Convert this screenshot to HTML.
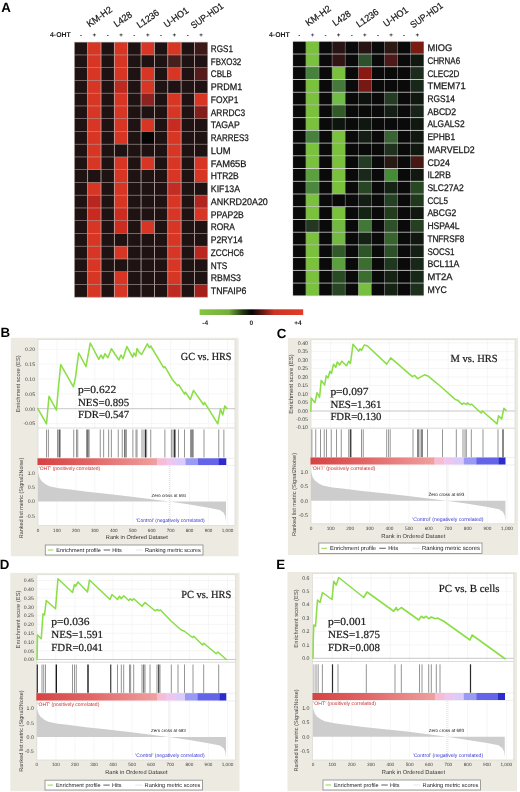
<!DOCTYPE html>
<html><head><meta charset="utf-8"><title>Figure</title>
<style>html,body{margin:0;padding:0;background:#fff}svg{display:block}svg text{text-rendering:geometricPrecision}</style>
</head><body>
<svg width="520" height="792" viewBox="0 0 520 792">
<rect x="0" y="0" width="520" height="792" fill="#ffffff"/>
<g opacity="0.999">
<rect x="74.30" y="42.20" width="133.50" height="255.00" fill="#c8b4b0"/>
<rect x="74.30" y="41.90" width="133.50" height="0.60" fill="#9a8c8c"/>
<rect x="74.30" y="54.65" width="133.50" height="0.60" fill="#9a8c8c"/>
<rect x="74.30" y="67.40" width="133.50" height="0.60" fill="#9a8c8c"/>
<rect x="74.30" y="80.15" width="133.50" height="0.60" fill="#9a8c8c"/>
<rect x="74.30" y="92.90" width="133.50" height="0.60" fill="#9a8c8c"/>
<rect x="74.30" y="105.65" width="133.50" height="0.60" fill="#9a8c8c"/>
<rect x="74.30" y="118.40" width="133.50" height="0.60" fill="#9a8c8c"/>
<rect x="74.30" y="131.15" width="133.50" height="0.60" fill="#9a8c8c"/>
<rect x="74.30" y="143.90" width="133.50" height="0.60" fill="#9a8c8c"/>
<rect x="74.30" y="156.65" width="133.50" height="0.60" fill="#9a8c8c"/>
<rect x="74.30" y="169.40" width="133.50" height="0.60" fill="#9a8c8c"/>
<rect x="74.30" y="182.15" width="133.50" height="0.60" fill="#9a8c8c"/>
<rect x="74.30" y="194.90" width="133.50" height="0.60" fill="#9a8c8c"/>
<rect x="74.30" y="207.65" width="133.50" height="0.60" fill="#9a8c8c"/>
<rect x="74.30" y="220.40" width="133.50" height="0.60" fill="#9a8c8c"/>
<rect x="74.30" y="233.15" width="133.50" height="0.60" fill="#9a8c8c"/>
<rect x="74.30" y="245.90" width="133.50" height="0.60" fill="#9a8c8c"/>
<rect x="74.30" y="258.65" width="133.50" height="0.60" fill="#9a8c8c"/>
<rect x="74.30" y="271.40" width="133.50" height="0.60" fill="#9a8c8c"/>
<rect x="74.30" y="284.15" width="133.50" height="0.60" fill="#9a8c8c"/>
<rect x="74.30" y="296.90" width="133.50" height="0.60" fill="#9a8c8c"/>
<rect x="74.70" y="42.50" width="12.55" height="12.15" fill="#1f1213"/>
<rect x="88.05" y="42.50" width="12.55" height="12.15" fill="#d83624"/>
<rect x="101.40" y="42.50" width="12.55" height="12.15" fill="#1f1213"/>
<rect x="114.75" y="42.50" width="12.55" height="12.15" fill="#d83624"/>
<rect x="128.10" y="42.50" width="12.55" height="12.15" fill="#1f1213"/>
<rect x="141.45" y="42.50" width="12.55" height="12.15" fill="#d83624"/>
<rect x="154.80" y="42.50" width="12.55" height="12.15" fill="#1f1213"/>
<rect x="168.15" y="42.50" width="12.55" height="12.15" fill="#d83624"/>
<rect x="181.50" y="42.50" width="12.55" height="12.15" fill="#1f1213"/>
<rect x="194.85" y="42.50" width="12.55" height="12.15" fill="#3c1a18"/>
<text x="210.80" y="51.98" font-family="Liberation Sans, Arial, sans-serif" font-size="9.6" fill="#161616" stroke="#161616" stroke-width="0.25" textLength="22.15" lengthAdjust="spacingAndGlyphs">RGS1</text>
<rect x="74.70" y="55.25" width="12.55" height="12.15" fill="#1f1213"/>
<rect x="88.05" y="55.25" width="12.55" height="12.15" fill="#d83624"/>
<rect x="101.40" y="55.25" width="12.55" height="12.15" fill="#1f1213"/>
<rect x="114.75" y="55.25" width="12.55" height="12.15" fill="#d83624"/>
<rect x="128.10" y="55.25" width="12.55" height="12.15" fill="#1f1213"/>
<rect x="141.45" y="55.25" width="12.55" height="12.15" fill="#1f1213"/>
<rect x="154.80" y="55.25" width="12.55" height="12.15" fill="#1f1213"/>
<rect x="168.15" y="55.25" width="12.55" height="12.15" fill="#46201c"/>
<rect x="181.50" y="55.25" width="12.55" height="12.15" fill="#1f1213"/>
<rect x="194.85" y="55.25" width="12.55" height="12.15" fill="#1f1213"/>
<text x="210.80" y="64.73" font-family="Liberation Sans, Arial, sans-serif" font-size="9.6" fill="#161616" stroke="#161616" stroke-width="0.25" textLength="30.45" lengthAdjust="spacingAndGlyphs">FBXO32</text>
<rect x="74.70" y="68.00" width="12.55" height="12.15" fill="#1f1213"/>
<rect x="88.05" y="68.00" width="12.55" height="12.15" fill="#d83624"/>
<rect x="101.40" y="68.00" width="12.55" height="12.15" fill="#1f1213"/>
<rect x="114.75" y="68.00" width="12.55" height="12.15" fill="#d83624"/>
<rect x="128.10" y="68.00" width="12.55" height="12.15" fill="#1f1213"/>
<rect x="141.45" y="68.00" width="12.55" height="12.15" fill="#d83624"/>
<rect x="154.80" y="68.00" width="12.55" height="12.15" fill="#1f1213"/>
<rect x="168.15" y="68.00" width="12.55" height="12.15" fill="#d83624"/>
<rect x="181.50" y="68.00" width="12.55" height="12.15" fill="#1f1213"/>
<rect x="194.85" y="68.00" width="12.55" height="12.15" fill="#551c1c"/>
<text x="210.80" y="77.48" font-family="Liberation Sans, Arial, sans-serif" font-size="9.6" fill="#161616" stroke="#161616" stroke-width="0.25" textLength="21.12" lengthAdjust="spacingAndGlyphs">CBLB</text>
<rect x="74.70" y="80.75" width="12.55" height="12.15" fill="#1f1213"/>
<rect x="88.05" y="80.75" width="12.55" height="12.15" fill="#d83624"/>
<rect x="101.40" y="80.75" width="12.55" height="12.15" fill="#1f1213"/>
<rect x="114.75" y="80.75" width="12.55" height="12.15" fill="#be2a20"/>
<rect x="128.10" y="80.75" width="12.55" height="12.15" fill="#1f1213"/>
<rect x="141.45" y="80.75" width="12.55" height="12.15" fill="#d83624"/>
<rect x="154.80" y="80.75" width="12.55" height="12.15" fill="#1f1213"/>
<rect x="168.15" y="80.75" width="12.55" height="12.15" fill="#1f1213"/>
<rect x="181.50" y="80.75" width="12.55" height="12.15" fill="#1f1213"/>
<rect x="194.85" y="80.75" width="12.55" height="12.15" fill="#1f1213"/>
<text x="210.80" y="90.23" font-family="Liberation Sans, Arial, sans-serif" font-size="9.6" fill="#161616" stroke="#161616" stroke-width="0.25" textLength="31.43" lengthAdjust="spacingAndGlyphs">PRDM1</text>
<rect x="74.70" y="93.50" width="12.55" height="12.15" fill="#1f1213"/>
<rect x="88.05" y="93.50" width="12.55" height="12.15" fill="#d83624"/>
<rect x="101.40" y="93.50" width="12.55" height="12.15" fill="#1f1213"/>
<rect x="114.75" y="93.50" width="12.55" height="12.15" fill="#d83624"/>
<rect x="128.10" y="93.50" width="12.55" height="12.15" fill="#1f1213"/>
<rect x="141.45" y="93.50" width="12.55" height="12.15" fill="#8c231e"/>
<rect x="154.80" y="93.50" width="12.55" height="12.15" fill="#1f1213"/>
<rect x="168.15" y="93.50" width="12.55" height="12.15" fill="#d83624"/>
<rect x="181.50" y="93.50" width="12.55" height="12.15" fill="#1f1213"/>
<rect x="194.85" y="93.50" width="12.55" height="12.15" fill="#d83624"/>
<text x="210.80" y="102.98" font-family="Liberation Sans, Arial, sans-serif" font-size="9.6" fill="#161616" stroke="#161616" stroke-width="0.25" textLength="27.57" lengthAdjust="spacingAndGlyphs">FOXP1</text>
<rect x="74.70" y="106.25" width="12.55" height="12.15" fill="#1f1213"/>
<rect x="88.05" y="106.25" width="12.55" height="12.15" fill="#d83624"/>
<rect x="101.40" y="106.25" width="12.55" height="12.15" fill="#1f1213"/>
<rect x="114.75" y="106.25" width="12.55" height="12.15" fill="#d83624"/>
<rect x="128.10" y="106.25" width="12.55" height="12.15" fill="#1f1213"/>
<rect x="141.45" y="106.25" width="12.55" height="12.15" fill="#1f1213"/>
<rect x="154.80" y="106.25" width="12.55" height="12.15" fill="#1f1213"/>
<rect x="168.15" y="106.25" width="12.55" height="12.15" fill="#d83624"/>
<rect x="181.50" y="106.25" width="12.55" height="12.15" fill="#1f1213"/>
<rect x="194.85" y="106.25" width="12.55" height="12.15" fill="#821e1c"/>
<text x="210.80" y="115.73" font-family="Liberation Sans, Arial, sans-serif" font-size="9.6" fill="#161616" stroke="#161616" stroke-width="0.25" textLength="34.36" lengthAdjust="spacingAndGlyphs">ARRDC3</text>
<rect x="74.70" y="119.00" width="12.55" height="12.15" fill="#1f1213"/>
<rect x="88.05" y="119.00" width="12.55" height="12.15" fill="#d83624"/>
<rect x="101.40" y="119.00" width="12.55" height="12.15" fill="#1f1213"/>
<rect x="114.75" y="119.00" width="12.55" height="12.15" fill="#d83624"/>
<rect x="128.10" y="119.00" width="12.55" height="12.15" fill="#1f1213"/>
<rect x="141.45" y="119.00" width="12.55" height="12.15" fill="#d83624"/>
<rect x="154.80" y="119.00" width="12.55" height="12.15" fill="#1f1213"/>
<rect x="168.15" y="119.00" width="12.55" height="12.15" fill="#c82c20"/>
<rect x="181.50" y="119.00" width="12.55" height="12.15" fill="#1f1213"/>
<rect x="194.85" y="119.00" width="12.55" height="12.15" fill="#1f1213"/>
<text x="210.80" y="128.47" font-family="Liberation Sans, Arial, sans-serif" font-size="9.6" fill="#161616" stroke="#161616" stroke-width="0.25" textLength="28.91" lengthAdjust="spacingAndGlyphs">TAGAP</text>
<rect x="74.70" y="131.75" width="12.55" height="12.15" fill="#1f1213"/>
<rect x="88.05" y="131.75" width="12.55" height="12.15" fill="#d83624"/>
<rect x="101.40" y="131.75" width="12.55" height="12.15" fill="#1f1213"/>
<rect x="114.75" y="131.75" width="12.55" height="12.15" fill="#d83624"/>
<rect x="128.10" y="131.75" width="12.55" height="12.15" fill="#1f1213"/>
<rect x="141.45" y="131.75" width="12.55" height="12.15" fill="#050505"/>
<rect x="154.80" y="131.75" width="12.55" height="12.15" fill="#1f1213"/>
<rect x="168.15" y="131.75" width="12.55" height="12.15" fill="#d83624"/>
<rect x="181.50" y="131.75" width="12.55" height="12.15" fill="#1f1213"/>
<rect x="194.85" y="131.75" width="12.55" height="12.15" fill="#1f1213"/>
<text x="210.80" y="141.22" font-family="Liberation Sans, Arial, sans-serif" font-size="9.6" fill="#161616" stroke="#161616" stroke-width="0.25" textLength="37.90" lengthAdjust="spacingAndGlyphs">RARRES3</text>
<rect x="74.70" y="144.50" width="12.55" height="12.15" fill="#1f1213"/>
<rect x="88.05" y="144.50" width="12.55" height="12.15" fill="#d83624"/>
<rect x="101.40" y="144.50" width="12.55" height="12.15" fill="#1f1213"/>
<rect x="114.75" y="144.50" width="12.55" height="12.15" fill="#1f1213"/>
<rect x="128.10" y="144.50" width="12.55" height="12.15" fill="#1f1213"/>
<rect x="141.45" y="144.50" width="12.55" height="12.15" fill="#1f1213"/>
<rect x="154.80" y="144.50" width="12.55" height="12.15" fill="#1f1213"/>
<rect x="168.15" y="144.50" width="12.55" height="12.15" fill="#d83624"/>
<rect x="181.50" y="144.50" width="12.55" height="12.15" fill="#1f1213"/>
<rect x="194.85" y="144.50" width="12.55" height="12.15" fill="#1f1213"/>
<text x="210.80" y="153.97" font-family="Liberation Sans, Arial, sans-serif" font-size="9.6" fill="#161616" stroke="#161616" stroke-width="0.25" textLength="19.84" lengthAdjust="spacingAndGlyphs">LUM</text>
<rect x="74.70" y="157.25" width="12.55" height="12.15" fill="#1f1213"/>
<rect x="88.05" y="157.25" width="12.55" height="12.15" fill="#d83624"/>
<rect x="101.40" y="157.25" width="12.55" height="12.15" fill="#1f1213"/>
<rect x="114.75" y="157.25" width="12.55" height="12.15" fill="#d83624"/>
<rect x="128.10" y="157.25" width="12.55" height="12.15" fill="#1f1213"/>
<rect x="141.45" y="157.25" width="12.55" height="12.15" fill="#d83624"/>
<rect x="154.80" y="157.25" width="12.55" height="12.15" fill="#1f1213"/>
<rect x="168.15" y="157.25" width="12.55" height="12.15" fill="#d83624"/>
<rect x="181.50" y="157.25" width="12.55" height="12.15" fill="#1f1213"/>
<rect x="194.85" y="157.25" width="12.55" height="12.15" fill="#d83624"/>
<text x="210.80" y="166.72" font-family="Liberation Sans, Arial, sans-serif" font-size="9.6" fill="#161616" stroke="#161616" stroke-width="0.25" textLength="35.72" lengthAdjust="spacingAndGlyphs">FAM65B</text>
<rect x="74.70" y="170.00" width="12.55" height="12.15" fill="#1f1213"/>
<rect x="88.05" y="170.00" width="12.55" height="12.15" fill="#1f1213"/>
<rect x="101.40" y="170.00" width="12.55" height="12.15" fill="#1f1213"/>
<rect x="114.75" y="170.00" width="12.55" height="12.15" fill="#d83624"/>
<rect x="128.10" y="170.00" width="12.55" height="12.15" fill="#1f1213"/>
<rect x="141.45" y="170.00" width="12.55" height="12.15" fill="#1f1213"/>
<rect x="154.80" y="170.00" width="12.55" height="12.15" fill="#1f1213"/>
<rect x="168.15" y="170.00" width="12.55" height="12.15" fill="#d83624"/>
<rect x="181.50" y="170.00" width="12.55" height="12.15" fill="#1f1213"/>
<rect x="194.85" y="170.00" width="12.55" height="12.15" fill="#d83624"/>
<text x="210.80" y="179.47" font-family="Liberation Sans, Arial, sans-serif" font-size="9.6" fill="#161616" stroke="#161616" stroke-width="0.25" textLength="27.99" lengthAdjust="spacingAndGlyphs">HTR2B</text>
<rect x="74.70" y="182.75" width="12.55" height="12.15" fill="#1f1213"/>
<rect x="88.05" y="182.75" width="12.55" height="12.15" fill="#d83624"/>
<rect x="101.40" y="182.75" width="12.55" height="12.15" fill="#1f1213"/>
<rect x="114.75" y="182.75" width="12.55" height="12.15" fill="#d83624"/>
<rect x="128.10" y="182.75" width="12.55" height="12.15" fill="#1f1213"/>
<rect x="141.45" y="182.75" width="12.55" height="12.15" fill="#1f1213"/>
<rect x="154.80" y="182.75" width="12.55" height="12.15" fill="#1f1213"/>
<rect x="168.15" y="182.75" width="12.55" height="12.15" fill="#c32c22"/>
<rect x="181.50" y="182.75" width="12.55" height="12.15" fill="#1f1213"/>
<rect x="194.85" y="182.75" width="12.55" height="12.15" fill="#1f1213"/>
<text x="210.80" y="192.22" font-family="Liberation Sans, Arial, sans-serif" font-size="9.6" fill="#161616" stroke="#161616" stroke-width="0.25" textLength="29.23" lengthAdjust="spacingAndGlyphs">KIF13A</text>
<rect x="74.70" y="195.50" width="12.55" height="12.15" fill="#1f1213"/>
<rect x="88.05" y="195.50" width="12.55" height="12.15" fill="#b9261f"/>
<rect x="101.40" y="195.50" width="12.55" height="12.15" fill="#1f1213"/>
<rect x="114.75" y="195.50" width="12.55" height="12.15" fill="#d83624"/>
<rect x="128.10" y="195.50" width="12.55" height="12.15" fill="#1f1213"/>
<rect x="141.45" y="195.50" width="12.55" height="12.15" fill="#1f1213"/>
<rect x="154.80" y="195.50" width="12.55" height="12.15" fill="#1f1213"/>
<rect x="168.15" y="195.50" width="12.55" height="12.15" fill="#d83624"/>
<rect x="181.50" y="195.50" width="12.55" height="12.15" fill="#1f1213"/>
<rect x="194.85" y="195.50" width="12.55" height="12.15" fill="#af251f"/>
<text x="210.80" y="204.97" font-family="Liberation Sans, Arial, sans-serif" font-size="9.6" fill="#161616" stroke="#161616" stroke-width="0.25" textLength="57.03" lengthAdjust="spacingAndGlyphs">ANKRD20A20</text>
<rect x="74.70" y="208.25" width="12.55" height="12.15" fill="#1f1213"/>
<rect x="88.05" y="208.25" width="12.55" height="12.15" fill="#c82a20"/>
<rect x="101.40" y="208.25" width="12.55" height="12.15" fill="#1f1213"/>
<rect x="114.75" y="208.25" width="12.55" height="12.15" fill="#cd2c21"/>
<rect x="128.10" y="208.25" width="12.55" height="12.15" fill="#1f1213"/>
<rect x="141.45" y="208.25" width="12.55" height="12.15" fill="#1f1213"/>
<rect x="154.80" y="208.25" width="12.55" height="12.15" fill="#1f1213"/>
<rect x="168.15" y="208.25" width="12.55" height="12.15" fill="#d83624"/>
<rect x="181.50" y="208.25" width="12.55" height="12.15" fill="#1f1213"/>
<rect x="194.85" y="208.25" width="12.55" height="12.15" fill="#d83624"/>
<text x="210.80" y="217.72" font-family="Liberation Sans, Arial, sans-serif" font-size="9.6" fill="#161616" stroke="#161616" stroke-width="0.25" textLength="32.92" lengthAdjust="spacingAndGlyphs">PPAP2B</text>
<rect x="74.70" y="221.00" width="12.55" height="12.15" fill="#1f1213"/>
<rect x="88.05" y="221.00" width="12.55" height="12.15" fill="#d83624"/>
<rect x="101.40" y="221.00" width="12.55" height="12.15" fill="#1f1213"/>
<rect x="114.75" y="221.00" width="12.55" height="12.15" fill="#cd2c21"/>
<rect x="128.10" y="221.00" width="12.55" height="12.15" fill="#1f1213"/>
<rect x="141.45" y="221.00" width="12.55" height="12.15" fill="#d83624"/>
<rect x="154.80" y="221.00" width="12.55" height="12.15" fill="#1f1213"/>
<rect x="168.15" y="221.00" width="12.55" height="12.15" fill="#d83624"/>
<rect x="181.50" y="221.00" width="12.55" height="12.15" fill="#1f1213"/>
<rect x="194.85" y="221.00" width="12.55" height="12.15" fill="#1f1213"/>
<text x="210.80" y="230.47" font-family="Liberation Sans, Arial, sans-serif" font-size="9.6" fill="#161616" stroke="#161616" stroke-width="0.25" textLength="24.08" lengthAdjust="spacingAndGlyphs">RORA</text>
<rect x="74.70" y="233.75" width="12.55" height="12.15" fill="#1f1213"/>
<rect x="88.05" y="233.75" width="12.55" height="12.15" fill="#d83624"/>
<rect x="101.40" y="233.75" width="12.55" height="12.15" fill="#1f1213"/>
<rect x="114.75" y="233.75" width="12.55" height="12.15" fill="#1f1213"/>
<rect x="128.10" y="233.75" width="12.55" height="12.15" fill="#1f1213"/>
<rect x="141.45" y="233.75" width="12.55" height="12.15" fill="#1f1213"/>
<rect x="154.80" y="233.75" width="12.55" height="12.15" fill="#1f1213"/>
<rect x="168.15" y="233.75" width="12.55" height="12.15" fill="#d83624"/>
<rect x="181.50" y="233.75" width="12.55" height="12.15" fill="#1f1213"/>
<rect x="194.85" y="233.75" width="12.55" height="12.15" fill="#1f1213"/>
<text x="210.80" y="243.22" font-family="Liberation Sans, Arial, sans-serif" font-size="9.6" fill="#161616" stroke="#161616" stroke-width="0.25" textLength="31.75" lengthAdjust="spacingAndGlyphs">P2RY14</text>
<rect x="74.70" y="246.50" width="12.55" height="12.15" fill="#1f1213"/>
<rect x="88.05" y="246.50" width="12.55" height="12.15" fill="#d83624"/>
<rect x="101.40" y="246.50" width="12.55" height="12.15" fill="#1f1213"/>
<rect x="114.75" y="246.50" width="12.55" height="12.15" fill="#d83624"/>
<rect x="128.10" y="246.50" width="12.55" height="12.15" fill="#1f1213"/>
<rect x="141.45" y="246.50" width="12.55" height="12.15" fill="#1f1213"/>
<rect x="154.80" y="246.50" width="12.55" height="12.15" fill="#1f1213"/>
<rect x="168.15" y="246.50" width="12.55" height="12.15" fill="#d83624"/>
<rect x="181.50" y="246.50" width="12.55" height="12.15" fill="#1f1213"/>
<rect x="194.85" y="246.50" width="12.55" height="12.15" fill="#b9271f"/>
<text x="210.80" y="255.97" font-family="Liberation Sans, Arial, sans-serif" font-size="9.6" fill="#161616" stroke="#161616" stroke-width="0.25" textLength="33.09" lengthAdjust="spacingAndGlyphs">ZCCHC6</text>
<rect x="74.70" y="259.25" width="12.55" height="12.15" fill="#1f1213"/>
<rect x="88.05" y="259.25" width="12.55" height="12.15" fill="#d83624"/>
<rect x="101.40" y="259.25" width="12.55" height="12.15" fill="#1f1213"/>
<rect x="114.75" y="259.25" width="12.55" height="12.15" fill="#1f1213"/>
<rect x="128.10" y="259.25" width="12.55" height="12.15" fill="#1f1213"/>
<rect x="141.45" y="259.25" width="12.55" height="12.15" fill="#1f1213"/>
<rect x="154.80" y="259.25" width="12.55" height="12.15" fill="#1f1213"/>
<rect x="168.15" y="259.25" width="12.55" height="12.15" fill="#d83624"/>
<rect x="181.50" y="259.25" width="12.55" height="12.15" fill="#1f1213"/>
<rect x="194.85" y="259.25" width="12.55" height="12.15" fill="#1f1213"/>
<text x="210.80" y="268.72" font-family="Liberation Sans, Arial, sans-serif" font-size="9.6" fill="#161616" stroke="#161616" stroke-width="0.25" textLength="16.48" lengthAdjust="spacingAndGlyphs">NTS</text>
<rect x="74.70" y="272.00" width="12.55" height="12.15" fill="#1f1213"/>
<rect x="88.05" y="272.00" width="12.55" height="12.15" fill="#d83624"/>
<rect x="101.40" y="272.00" width="12.55" height="12.15" fill="#1f1213"/>
<rect x="114.75" y="272.00" width="12.55" height="12.15" fill="#d83624"/>
<rect x="128.10" y="272.00" width="12.55" height="12.15" fill="#1f1213"/>
<rect x="141.45" y="272.00" width="12.55" height="12.15" fill="#1f1213"/>
<rect x="154.80" y="272.00" width="12.55" height="12.15" fill="#1f1213"/>
<rect x="168.15" y="272.00" width="12.55" height="12.15" fill="#d83624"/>
<rect x="181.50" y="272.00" width="12.55" height="12.15" fill="#1f1213"/>
<rect x="194.85" y="272.00" width="12.55" height="12.15" fill="#1f1213"/>
<text x="210.80" y="281.47" font-family="Liberation Sans, Arial, sans-serif" font-size="9.6" fill="#161616" stroke="#161616" stroke-width="0.25" textLength="30.10" lengthAdjust="spacingAndGlyphs">RBMS3</text>
<rect x="74.70" y="284.75" width="12.55" height="12.15" fill="#1f1213"/>
<rect x="88.05" y="284.75" width="12.55" height="12.15" fill="#d83624"/>
<rect x="101.40" y="284.75" width="12.55" height="12.15" fill="#1f1213"/>
<rect x="114.75" y="284.75" width="12.55" height="12.15" fill="#d83624"/>
<rect x="128.10" y="284.75" width="12.55" height="12.15" fill="#1f1213"/>
<rect x="141.45" y="284.75" width="12.55" height="12.15" fill="#1f1213"/>
<rect x="154.80" y="284.75" width="12.55" height="12.15" fill="#1f1213"/>
<rect x="168.15" y="284.75" width="12.55" height="12.15" fill="#be2a21"/>
<rect x="181.50" y="284.75" width="12.55" height="12.15" fill="#1f1213"/>
<rect x="194.85" y="284.75" width="12.55" height="12.15" fill="#a5201a"/>
<text x="210.80" y="294.22" font-family="Liberation Sans, Arial, sans-serif" font-size="9.6" fill="#161616" stroke="#161616" stroke-width="0.25" textLength="35.68" lengthAdjust="spacingAndGlyphs">TNFAIP6</text>
<text x="80.97" y="36.70" font-family="Liberation Sans, Arial, sans-serif" font-size="6.2" font-weight="bold" fill="#222" text-anchor="middle">-</text>
<text x="94.32" y="36.70" font-family="Liberation Sans, Arial, sans-serif" font-size="6.2" font-weight="bold" fill="#222" text-anchor="middle">+</text>
<text x="107.67" y="36.70" font-family="Liberation Sans, Arial, sans-serif" font-size="6.2" font-weight="bold" fill="#222" text-anchor="middle">-</text>
<text x="121.03" y="36.70" font-family="Liberation Sans, Arial, sans-serif" font-size="6.2" font-weight="bold" fill="#222" text-anchor="middle">+</text>
<text x="134.38" y="36.70" font-family="Liberation Sans, Arial, sans-serif" font-size="6.2" font-weight="bold" fill="#222" text-anchor="middle">-</text>
<text x="147.72" y="36.70" font-family="Liberation Sans, Arial, sans-serif" font-size="6.2" font-weight="bold" fill="#222" text-anchor="middle">+</text>
<text x="161.07" y="36.70" font-family="Liberation Sans, Arial, sans-serif" font-size="6.2" font-weight="bold" fill="#222" text-anchor="middle">-</text>
<text x="174.43" y="36.70" font-family="Liberation Sans, Arial, sans-serif" font-size="6.2" font-weight="bold" fill="#222" text-anchor="middle">+</text>
<text x="187.77" y="36.70" font-family="Liberation Sans, Arial, sans-serif" font-size="6.2" font-weight="bold" fill="#222" text-anchor="middle">-</text>
<text x="201.12" y="36.70" font-family="Liberation Sans, Arial, sans-serif" font-size="6.2" font-weight="bold" fill="#222" text-anchor="middle">+</text>
<text x="50.00" y="37.10" font-family="Liberation Sans, Arial, sans-serif" font-size="7" font-weight="bold" fill="#222" textLength="20.8" lengthAdjust="spacingAndGlyphs">4-OHT</text>
<rect x="292.80" y="41.30" width="131.00" height="254.50" fill="#8c8c8c"/>
<rect x="292.80" y="40.85" width="131.00" height="0.90" fill="#e2e2e2"/>
<rect x="292.80" y="53.57" width="131.00" height="0.90" fill="#e2e2e2"/>
<rect x="292.80" y="66.30" width="131.00" height="0.90" fill="#e2e2e2"/>
<rect x="292.80" y="79.02" width="131.00" height="0.90" fill="#e2e2e2"/>
<rect x="292.80" y="91.75" width="131.00" height="0.90" fill="#e2e2e2"/>
<rect x="292.80" y="104.47" width="131.00" height="0.90" fill="#e2e2e2"/>
<rect x="292.80" y="117.20" width="131.00" height="0.90" fill="#e2e2e2"/>
<rect x="292.80" y="129.93" width="131.00" height="0.90" fill="#e2e2e2"/>
<rect x="292.80" y="142.65" width="131.00" height="0.90" fill="#e2e2e2"/>
<rect x="292.80" y="155.38" width="131.00" height="0.90" fill="#e2e2e2"/>
<rect x="292.80" y="168.10" width="131.00" height="0.90" fill="#e2e2e2"/>
<rect x="292.80" y="180.82" width="131.00" height="0.90" fill="#e2e2e2"/>
<rect x="292.80" y="193.55" width="131.00" height="0.90" fill="#e2e2e2"/>
<rect x="292.80" y="206.27" width="131.00" height="0.90" fill="#e2e2e2"/>
<rect x="292.80" y="219.00" width="131.00" height="0.90" fill="#e2e2e2"/>
<rect x="292.80" y="231.73" width="131.00" height="0.90" fill="#e2e2e2"/>
<rect x="292.80" y="244.45" width="131.00" height="0.90" fill="#e2e2e2"/>
<rect x="292.80" y="257.18" width="131.00" height="0.90" fill="#e2e2e2"/>
<rect x="292.80" y="269.90" width="131.00" height="0.90" fill="#e2e2e2"/>
<rect x="292.80" y="282.62" width="131.00" height="0.90" fill="#e2e2e2"/>
<rect x="292.80" y="295.35" width="131.00" height="0.90" fill="#e2e2e2"/>
<rect x="293.10" y="41.75" width="12.50" height="11.82" fill="#0a0a0a"/>
<rect x="306.20" y="41.75" width="12.50" height="11.82" fill="#7ac23c"/>
<rect x="319.30" y="41.75" width="12.50" height="11.82" fill="#0a0a0a"/>
<rect x="332.40" y="41.75" width="12.50" height="11.82" fill="#281414"/>
<rect x="345.50" y="41.75" width="12.50" height="11.82" fill="#0a0a0a"/>
<rect x="358.60" y="41.75" width="12.50" height="11.82" fill="#281414"/>
<rect x="371.70" y="41.75" width="12.50" height="11.82" fill="#0a0a0a"/>
<rect x="384.80" y="41.75" width="12.50" height="11.82" fill="#2d1914"/>
<rect x="397.90" y="41.75" width="12.50" height="11.82" fill="#0a0a0a"/>
<rect x="411.00" y="41.75" width="12.50" height="11.82" fill="#7a1c12"/>
<text x="427.40" y="51.06" font-family="Liberation Sans, Arial, sans-serif" font-size="9.6" fill="#161616" stroke="#161616" stroke-width="0.25" textLength="24.84" lengthAdjust="spacingAndGlyphs">MIOG</text>
<rect x="293.10" y="54.48" width="12.50" height="11.82" fill="#0a0a0a"/>
<rect x="306.20" y="54.48" width="12.50" height="11.82" fill="#7ac23c"/>
<rect x="319.30" y="54.48" width="12.50" height="11.82" fill="#0a0a0a"/>
<rect x="332.40" y="54.48" width="12.50" height="11.82" fill="#321414"/>
<rect x="345.50" y="54.48" width="12.50" height="11.82" fill="#0a0a0a"/>
<rect x="358.60" y="54.48" width="12.50" height="11.82" fill="#2d502d"/>
<rect x="371.70" y="54.48" width="12.50" height="11.82" fill="#0a0a0a"/>
<rect x="384.80" y="54.48" width="12.50" height="11.82" fill="#501919"/>
<rect x="397.90" y="54.48" width="12.50" height="11.82" fill="#0a0a0a"/>
<rect x="411.00" y="54.48" width="12.50" height="11.82" fill="#101810"/>
<text x="427.40" y="63.79" font-family="Liberation Sans, Arial, sans-serif" font-size="9.6" fill="#161616" stroke="#161616" stroke-width="0.25" textLength="32.67" lengthAdjust="spacingAndGlyphs">CHRNA6</text>
<rect x="293.10" y="67.20" width="12.50" height="11.82" fill="#0a0a0a"/>
<rect x="306.20" y="67.20" width="12.50" height="11.82" fill="#46823c"/>
<rect x="319.30" y="67.20" width="12.50" height="11.82" fill="#0a0a0a"/>
<rect x="332.40" y="67.20" width="12.50" height="11.82" fill="#7ac23c"/>
<rect x="345.50" y="67.20" width="12.50" height="11.82" fill="#0a0a0a"/>
<rect x="358.60" y="67.20" width="12.50" height="11.82" fill="#8a1914"/>
<rect x="371.70" y="67.20" width="12.50" height="11.82" fill="#0a0a0a"/>
<rect x="384.80" y="67.20" width="12.50" height="11.82" fill="#0a0a0a"/>
<rect x="397.90" y="67.20" width="12.50" height="11.82" fill="#0a0a0a"/>
<rect x="411.00" y="67.20" width="12.50" height="11.82" fill="#1c2c1c"/>
<text x="427.40" y="76.51" font-family="Liberation Sans, Arial, sans-serif" font-size="9.6" fill="#161616" stroke="#161616" stroke-width="0.25" textLength="32.04" lengthAdjust="spacingAndGlyphs">CLEC2D</text>
<rect x="293.10" y="79.92" width="12.50" height="11.82" fill="#0a0a0a"/>
<rect x="306.20" y="79.92" width="12.50" height="11.82" fill="#7ac23c"/>
<rect x="319.30" y="79.92" width="12.50" height="11.82" fill="#0a0a0a"/>
<rect x="332.40" y="79.92" width="12.50" height="11.82" fill="#46783c"/>
<rect x="345.50" y="79.92" width="12.50" height="11.82" fill="#0a0a0a"/>
<rect x="358.60" y="79.92" width="12.50" height="11.82" fill="#761914"/>
<rect x="371.70" y="79.92" width="12.50" height="11.82" fill="#0a0a0a"/>
<rect x="384.80" y="79.92" width="12.50" height="11.82" fill="#0a0a0a"/>
<rect x="397.90" y="79.92" width="12.50" height="11.82" fill="#0a0a0a"/>
<rect x="411.00" y="79.92" width="12.50" height="11.82" fill="#182818"/>
<text x="427.40" y="89.24" font-family="Liberation Sans, Arial, sans-serif" font-size="9.6" fill="#161616" stroke="#161616" stroke-width="0.25" textLength="38.28" lengthAdjust="spacingAndGlyphs">TMEM71</text>
<rect x="293.10" y="92.65" width="12.50" height="11.82" fill="#0a0a0a"/>
<rect x="306.20" y="92.65" width="12.50" height="11.82" fill="#7ac23c"/>
<rect x="319.30" y="92.65" width="12.50" height="11.82" fill="#0a0a0a"/>
<rect x="332.40" y="92.65" width="12.50" height="11.82" fill="#6ebe46"/>
<rect x="345.50" y="92.65" width="12.50" height="11.82" fill="#0a0a0a"/>
<rect x="358.60" y="92.65" width="12.50" height="11.82" fill="#0e120e"/>
<rect x="371.70" y="92.65" width="12.50" height="11.82" fill="#0a0a0a"/>
<rect x="384.80" y="92.65" width="12.50" height="11.82" fill="#233c23"/>
<rect x="397.90" y="92.65" width="12.50" height="11.82" fill="#0a0a0a"/>
<rect x="411.00" y="92.65" width="12.50" height="11.82" fill="#101810"/>
<text x="427.40" y="101.96" font-family="Liberation Sans, Arial, sans-serif" font-size="9.6" fill="#161616" stroke="#161616" stroke-width="0.25" textLength="27.40" lengthAdjust="spacingAndGlyphs">RGS14</text>
<rect x="293.10" y="105.38" width="12.50" height="11.82" fill="#0a0a0a"/>
<rect x="306.20" y="105.38" width="12.50" height="11.82" fill="#7ac23c"/>
<rect x="319.30" y="105.38" width="12.50" height="11.82" fill="#0a0a0a"/>
<rect x="332.40" y="105.38" width="12.50" height="11.82" fill="#325a28"/>
<rect x="345.50" y="105.38" width="12.50" height="11.82" fill="#0a0a0a"/>
<rect x="358.60" y="105.38" width="12.50" height="11.82" fill="#0a0a0a"/>
<rect x="371.70" y="105.38" width="12.50" height="11.82" fill="#0a0a0a"/>
<rect x="384.80" y="105.38" width="12.50" height="11.82" fill="#141e14"/>
<rect x="397.90" y="105.38" width="12.50" height="11.82" fill="#0a0a0a"/>
<rect x="411.00" y="105.38" width="12.50" height="11.82" fill="#182418"/>
<text x="427.40" y="114.69" font-family="Liberation Sans, Arial, sans-serif" font-size="9.6" fill="#161616" stroke="#161616" stroke-width="0.25" textLength="28.75" lengthAdjust="spacingAndGlyphs">ABCD2</text>
<rect x="293.10" y="118.10" width="12.50" height="11.82" fill="#0a0a0a"/>
<rect x="306.20" y="118.10" width="12.50" height="11.82" fill="#7ac23c"/>
<rect x="319.30" y="118.10" width="12.50" height="11.82" fill="#0a0a0a"/>
<rect x="332.40" y="118.10" width="12.50" height="11.82" fill="#0e140e"/>
<rect x="345.50" y="118.10" width="12.50" height="11.82" fill="#0a0a0a"/>
<rect x="358.60" y="118.10" width="12.50" height="11.82" fill="#101610"/>
<rect x="371.70" y="118.10" width="12.50" height="11.82" fill="#0a0a0a"/>
<rect x="384.80" y="118.10" width="12.50" height="11.82" fill="#0a0a0a"/>
<rect x="397.90" y="118.10" width="12.50" height="11.82" fill="#0a0a0a"/>
<rect x="411.00" y="118.10" width="12.50" height="11.82" fill="#101810"/>
<text x="427.40" y="127.41" font-family="Liberation Sans, Arial, sans-serif" font-size="9.6" fill="#161616" stroke="#161616" stroke-width="0.25" textLength="37.21" lengthAdjust="spacingAndGlyphs">ALGALS2</text>
<rect x="293.10" y="130.82" width="12.50" height="11.82" fill="#0a0a0a"/>
<rect x="306.20" y="130.82" width="12.50" height="11.82" fill="#46823c"/>
<rect x="319.30" y="130.82" width="12.50" height="11.82" fill="#0a0a0a"/>
<rect x="332.40" y="130.82" width="12.50" height="11.82" fill="#7ac23c"/>
<rect x="345.50" y="130.82" width="12.50" height="11.82" fill="#0a0a0a"/>
<rect x="358.60" y="130.82" width="12.50" height="11.82" fill="#141e14"/>
<rect x="371.70" y="130.82" width="12.50" height="11.82" fill="#0a0a0a"/>
<rect x="384.80" y="130.82" width="12.50" height="11.82" fill="#376432"/>
<rect x="397.90" y="130.82" width="12.50" height="11.82" fill="#0a0a0a"/>
<rect x="411.00" y="130.82" width="12.50" height="11.82" fill="#101810"/>
<text x="427.40" y="140.14" font-family="Liberation Sans, Arial, sans-serif" font-size="9.6" fill="#161616" stroke="#161616" stroke-width="0.25" textLength="27.73" lengthAdjust="spacingAndGlyphs">EPHB1</text>
<rect x="293.10" y="143.55" width="12.50" height="11.82" fill="#0a0a0a"/>
<rect x="306.20" y="143.55" width="12.50" height="11.82" fill="#7ac23c"/>
<rect x="319.30" y="143.55" width="12.50" height="11.82" fill="#0a0a0a"/>
<rect x="332.40" y="143.55" width="12.50" height="11.82" fill="#7ac23c"/>
<rect x="345.50" y="143.55" width="12.50" height="11.82" fill="#0a0a0a"/>
<rect x="358.60" y="143.55" width="12.50" height="11.82" fill="#0a0a0a"/>
<rect x="371.70" y="143.55" width="12.50" height="11.82" fill="#0a0a0a"/>
<rect x="384.80" y="143.55" width="12.50" height="11.82" fill="#1e321e"/>
<rect x="397.90" y="143.55" width="12.50" height="11.82" fill="#0a0a0a"/>
<rect x="411.00" y="143.55" width="12.50" height="11.82" fill="#101810"/>
<text x="427.40" y="152.86" font-family="Liberation Sans, Arial, sans-serif" font-size="9.6" fill="#161616" stroke="#161616" stroke-width="0.25" textLength="47.34" lengthAdjust="spacingAndGlyphs">MARVELD2</text>
<rect x="293.10" y="156.27" width="12.50" height="11.82" fill="#0a0a0a"/>
<rect x="306.20" y="156.27" width="12.50" height="11.82" fill="#7ac23c"/>
<rect x="319.30" y="156.27" width="12.50" height="11.82" fill="#0a0a0a"/>
<rect x="332.40" y="156.27" width="12.50" height="11.82" fill="#7ac23c"/>
<rect x="345.50" y="156.27" width="12.50" height="11.82" fill="#0a0a0a"/>
<rect x="358.60" y="156.27" width="12.50" height="11.82" fill="#233c23"/>
<rect x="371.70" y="156.27" width="12.50" height="11.82" fill="#0a0a0a"/>
<rect x="384.80" y="156.27" width="12.50" height="11.82" fill="#281914"/>
<rect x="397.90" y="156.27" width="12.50" height="11.82" fill="#0a0a0a"/>
<rect x="411.00" y="156.27" width="12.50" height="11.82" fill="#461914"/>
<text x="427.40" y="165.59" font-family="Liberation Sans, Arial, sans-serif" font-size="9.6" fill="#161616" stroke="#161616" stroke-width="0.25" textLength="22.38" lengthAdjust="spacingAndGlyphs">CD24</text>
<rect x="293.10" y="169.00" width="12.50" height="11.82" fill="#0a0a0a"/>
<rect x="306.20" y="169.00" width="12.50" height="11.82" fill="#5aa03c"/>
<rect x="319.30" y="169.00" width="12.50" height="11.82" fill="#0a0a0a"/>
<rect x="332.40" y="169.00" width="12.50" height="11.82" fill="#7ac23c"/>
<rect x="345.50" y="169.00" width="12.50" height="11.82" fill="#0a0a0a"/>
<rect x="358.60" y="169.00" width="12.50" height="11.82" fill="#192819"/>
<rect x="371.70" y="169.00" width="12.50" height="11.82" fill="#0a0a0a"/>
<rect x="384.80" y="169.00" width="12.50" height="11.82" fill="#468c37"/>
<rect x="397.90" y="169.00" width="12.50" height="11.82" fill="#0a0a0a"/>
<rect x="411.00" y="169.00" width="12.50" height="11.82" fill="#101810"/>
<text x="427.40" y="178.31" font-family="Liberation Sans, Arial, sans-serif" font-size="9.6" fill="#161616" stroke="#161616" stroke-width="0.25" textLength="23.45" lengthAdjust="spacingAndGlyphs">IL2RB</text>
<rect x="293.10" y="181.72" width="12.50" height="11.82" fill="#0a0a0a"/>
<rect x="306.20" y="181.72" width="12.50" height="11.82" fill="#4b873c"/>
<rect x="319.30" y="181.72" width="12.50" height="11.82" fill="#0a0a0a"/>
<rect x="332.40" y="181.72" width="12.50" height="11.82" fill="#7ac23c"/>
<rect x="345.50" y="181.72" width="12.50" height="11.82" fill="#0a0a0a"/>
<rect x="358.60" y="181.72" width="12.50" height="11.82" fill="#284623"/>
<rect x="371.70" y="181.72" width="12.50" height="11.82" fill="#0a0a0a"/>
<rect x="384.80" y="181.72" width="12.50" height="11.82" fill="#142314"/>
<rect x="397.90" y="181.72" width="12.50" height="11.82" fill="#0a0a0a"/>
<rect x="411.00" y="181.72" width="12.50" height="11.82" fill="#284824"/>
<text x="427.40" y="191.04" font-family="Liberation Sans, Arial, sans-serif" font-size="9.6" fill="#161616" stroke="#161616" stroke-width="0.25" textLength="36.35" lengthAdjust="spacingAndGlyphs">SLC27A2</text>
<rect x="293.10" y="194.45" width="12.50" height="11.82" fill="#0a0a0a"/>
<rect x="306.20" y="194.45" width="12.50" height="11.82" fill="#7ac23c"/>
<rect x="319.30" y="194.45" width="12.50" height="11.82" fill="#0a0a0a"/>
<rect x="332.40" y="194.45" width="12.50" height="11.82" fill="#0a0a0a"/>
<rect x="345.50" y="194.45" width="12.50" height="11.82" fill="#0a0a0a"/>
<rect x="358.60" y="194.45" width="12.50" height="11.82" fill="#141e14"/>
<rect x="371.70" y="194.45" width="12.50" height="11.82" fill="#0a0a0a"/>
<rect x="384.80" y="194.45" width="12.50" height="11.82" fill="#234123"/>
<rect x="397.90" y="194.45" width="12.50" height="11.82" fill="#0a0a0a"/>
<rect x="411.00" y="194.45" width="12.50" height="11.82" fill="#20381c"/>
<text x="427.40" y="203.76" font-family="Liberation Sans, Arial, sans-serif" font-size="9.6" fill="#161616" stroke="#161616" stroke-width="0.25" textLength="20.63" lengthAdjust="spacingAndGlyphs">CCL5</text>
<rect x="293.10" y="207.17" width="12.50" height="11.82" fill="#0a0a0a"/>
<rect x="306.20" y="207.17" width="12.50" height="11.82" fill="#7ac23c"/>
<rect x="319.30" y="207.17" width="12.50" height="11.82" fill="#0a0a0a"/>
<rect x="332.40" y="207.17" width="12.50" height="11.82" fill="#7ac23c"/>
<rect x="345.50" y="207.17" width="12.50" height="11.82" fill="#0a0a0a"/>
<rect x="358.60" y="207.17" width="12.50" height="11.82" fill="#142314"/>
<rect x="371.70" y="207.17" width="12.50" height="11.82" fill="#0a0a0a"/>
<rect x="384.80" y="207.17" width="12.50" height="11.82" fill="#233c1e"/>
<rect x="397.90" y="207.17" width="12.50" height="11.82" fill="#0a0a0a"/>
<rect x="411.00" y="207.17" width="12.50" height="11.82" fill="#101810"/>
<text x="427.40" y="216.49" font-family="Liberation Sans, Arial, sans-serif" font-size="9.6" fill="#161616" stroke="#161616" stroke-width="0.25" textLength="28.92" lengthAdjust="spacingAndGlyphs">ABCG2</text>
<rect x="293.10" y="219.90" width="12.50" height="11.82" fill="#0a0a0a"/>
<rect x="306.20" y="219.90" width="12.50" height="11.82" fill="#233723"/>
<rect x="319.30" y="219.90" width="12.50" height="11.82" fill="#0a0a0a"/>
<rect x="332.40" y="219.90" width="12.50" height="11.82" fill="#73b941"/>
<rect x="345.50" y="219.90" width="12.50" height="11.82" fill="#0a0a0a"/>
<rect x="358.60" y="219.90" width="12.50" height="11.82" fill="#417837"/>
<rect x="371.70" y="219.90" width="12.50" height="11.82" fill="#0a0a0a"/>
<rect x="384.80" y="219.90" width="12.50" height="11.82" fill="#2d5028"/>
<rect x="397.90" y="219.90" width="12.50" height="11.82" fill="#0a0a0a"/>
<rect x="411.00" y="219.90" width="12.50" height="11.82" fill="#244020"/>
<text x="427.40" y="229.21" font-family="Liberation Sans, Arial, sans-serif" font-size="9.6" fill="#161616" stroke="#161616" stroke-width="0.25" textLength="32.14" lengthAdjust="spacingAndGlyphs">HSPA4L</text>
<rect x="293.10" y="232.62" width="12.50" height="11.82" fill="#0a0a0a"/>
<rect x="306.20" y="232.62" width="12.50" height="11.82" fill="#7ac23c"/>
<rect x="319.30" y="232.62" width="12.50" height="11.82" fill="#0a0a0a"/>
<rect x="332.40" y="232.62" width="12.50" height="11.82" fill="#73b941"/>
<rect x="345.50" y="232.62" width="12.50" height="11.82" fill="#0a0a0a"/>
<rect x="358.60" y="232.62" width="12.50" height="11.82" fill="#142314"/>
<rect x="371.70" y="232.62" width="12.50" height="11.82" fill="#0a0a0a"/>
<rect x="384.80" y="232.62" width="12.50" height="11.82" fill="#37642d"/>
<rect x="397.90" y="232.62" width="12.50" height="11.82" fill="#0a0a0a"/>
<rect x="411.00" y="232.62" width="12.50" height="11.82" fill="#101810"/>
<text x="427.40" y="241.94" font-family="Liberation Sans, Arial, sans-serif" font-size="9.6" fill="#161616" stroke="#161616" stroke-width="0.25" textLength="36.85" lengthAdjust="spacingAndGlyphs">TNFRSF8</text>
<rect x="293.10" y="245.35" width="12.50" height="11.82" fill="#0a0a0a"/>
<rect x="306.20" y="245.35" width="12.50" height="11.82" fill="#7ac23c"/>
<rect x="319.30" y="245.35" width="12.50" height="11.82" fill="#0a0a0a"/>
<rect x="332.40" y="245.35" width="12.50" height="11.82" fill="#325a28"/>
<rect x="345.50" y="245.35" width="12.50" height="11.82" fill="#0a0a0a"/>
<rect x="358.60" y="245.35" width="12.50" height="11.82" fill="#2d5528"/>
<rect x="371.70" y="245.35" width="12.50" height="11.82" fill="#0a0a0a"/>
<rect x="384.80" y="245.35" width="12.50" height="11.82" fill="#2d5028"/>
<rect x="397.90" y="245.35" width="12.50" height="11.82" fill="#0a0a0a"/>
<rect x="411.00" y="245.35" width="12.50" height="11.82" fill="#142014"/>
<text x="427.40" y="254.66" font-family="Liberation Sans, Arial, sans-serif" font-size="9.6" fill="#161616" stroke="#161616" stroke-width="0.25" textLength="27.12" lengthAdjust="spacingAndGlyphs">SOCS1</text>
<rect x="293.10" y="258.07" width="12.50" height="11.82" fill="#0a0a0a"/>
<rect x="306.20" y="258.07" width="12.50" height="11.82" fill="#7ac23c"/>
<rect x="319.30" y="258.07" width="12.50" height="11.82" fill="#0a0a0a"/>
<rect x="332.40" y="258.07" width="12.50" height="11.82" fill="#5aa03c"/>
<rect x="345.50" y="258.07" width="12.50" height="11.82" fill="#0a0a0a"/>
<rect x="358.60" y="258.07" width="12.50" height="11.82" fill="#3c6e32"/>
<rect x="371.70" y="258.07" width="12.50" height="11.82" fill="#0a0a0a"/>
<rect x="384.80" y="258.07" width="12.50" height="11.82" fill="#1e371e"/>
<rect x="397.90" y="258.07" width="12.50" height="11.82" fill="#0a0a0a"/>
<rect x="411.00" y="258.07" width="12.50" height="11.82" fill="#182818"/>
<text x="427.40" y="267.39" font-family="Liberation Sans, Arial, sans-serif" font-size="9.6" fill="#161616" stroke="#161616" stroke-width="0.25" textLength="31.98" lengthAdjust="spacingAndGlyphs">BCL11A</text>
<rect x="293.10" y="270.80" width="12.50" height="11.82" fill="#0a0a0a"/>
<rect x="306.20" y="270.80" width="12.50" height="11.82" fill="#7ac23c"/>
<rect x="319.30" y="270.80" width="12.50" height="11.82" fill="#0a0a0a"/>
<rect x="332.40" y="270.80" width="12.50" height="11.82" fill="#284b23"/>
<rect x="345.50" y="270.80" width="12.50" height="11.82" fill="#0a0a0a"/>
<rect x="358.60" y="270.80" width="12.50" height="11.82" fill="#3c6e32"/>
<rect x="371.70" y="270.80" width="12.50" height="11.82" fill="#0a0a0a"/>
<rect x="384.80" y="270.80" width="12.50" height="11.82" fill="#142314"/>
<rect x="397.90" y="270.80" width="12.50" height="11.82" fill="#0a0a0a"/>
<rect x="411.00" y="270.80" width="12.50" height="11.82" fill="#182818"/>
<text x="427.40" y="280.11" font-family="Liberation Sans, Arial, sans-serif" font-size="9.6" fill="#161616" stroke="#161616" stroke-width="0.25" textLength="25.13" lengthAdjust="spacingAndGlyphs">MT2A</text>
<rect x="293.10" y="283.52" width="12.50" height="11.82" fill="#0a0a0a"/>
<rect x="306.20" y="283.52" width="12.50" height="11.82" fill="#7ac23c"/>
<rect x="319.30" y="283.52" width="12.50" height="11.82" fill="#0a0a0a"/>
<rect x="332.40" y="283.52" width="12.50" height="11.82" fill="#284623"/>
<rect x="345.50" y="283.52" width="12.50" height="11.82" fill="#0a0a0a"/>
<rect x="358.60" y="283.52" width="12.50" height="11.82" fill="#78be41"/>
<rect x="371.70" y="283.52" width="12.50" height="11.82" fill="#0a0a0a"/>
<rect x="384.80" y="283.52" width="12.50" height="11.82" fill="#142314"/>
<rect x="397.90" y="283.52" width="12.50" height="11.82" fill="#0a0a0a"/>
<rect x="411.00" y="283.52" width="12.50" height="11.82" fill="#1c301c"/>
<text x="427.40" y="292.84" font-family="Liberation Sans, Arial, sans-serif" font-size="9.6" fill="#161616" stroke="#161616" stroke-width="0.25" textLength="19.41" lengthAdjust="spacingAndGlyphs">MYC</text>
<text x="299.35" y="36.70" font-family="Liberation Sans, Arial, sans-serif" font-size="6.2" font-weight="bold" fill="#222" text-anchor="middle">-</text>
<text x="312.45" y="36.70" font-family="Liberation Sans, Arial, sans-serif" font-size="6.2" font-weight="bold" fill="#3a2e80" text-anchor="middle">+</text>
<text x="325.55" y="36.70" font-family="Liberation Sans, Arial, sans-serif" font-size="6.2" font-weight="bold" fill="#222" text-anchor="middle">-</text>
<text x="338.65" y="36.70" font-family="Liberation Sans, Arial, sans-serif" font-size="6.2" font-weight="bold" fill="#222" text-anchor="middle">+</text>
<text x="351.75" y="36.70" font-family="Liberation Sans, Arial, sans-serif" font-size="6.2" font-weight="bold" fill="#222" text-anchor="middle">-</text>
<text x="364.85" y="36.70" font-family="Liberation Sans, Arial, sans-serif" font-size="6.2" font-weight="bold" fill="#222" text-anchor="middle">+</text>
<text x="377.95" y="36.70" font-family="Liberation Sans, Arial, sans-serif" font-size="6.2" font-weight="bold" fill="#222" text-anchor="middle">-</text>
<text x="391.05" y="36.70" font-family="Liberation Sans, Arial, sans-serif" font-size="6.2" font-weight="bold" fill="#222" text-anchor="middle">+</text>
<text x="404.15" y="36.70" font-family="Liberation Sans, Arial, sans-serif" font-size="6.2" font-weight="bold" fill="#222" text-anchor="middle">-</text>
<text x="417.25" y="36.70" font-family="Liberation Sans, Arial, sans-serif" font-size="6.2" font-weight="bold" fill="#222" text-anchor="middle">+</text>
<text x="269.00" y="37.10" font-family="Liberation Sans, Arial, sans-serif" font-size="7" font-weight="bold" fill="#222" textLength="20.8" lengthAdjust="spacingAndGlyphs">4-OHT</text>
<text transform="translate(89.50,27.50) rotate(-35)" font-family="Liberation Sans, Arial, sans-serif" font-size="9.3" fill="#161616" stroke="#161616" stroke-width="0.22" textLength="28.67" lengthAdjust="spacingAndGlyphs">KM-H2</text>
<text transform="translate(116.50,27.50) rotate(-35)" font-family="Liberation Sans, Arial, sans-serif" font-size="9.3" fill="#161616" stroke="#161616" stroke-width="0.22" textLength="19.80" lengthAdjust="spacingAndGlyphs">L428</text>
<text transform="translate(139.50,28.50) rotate(-35)" font-family="Liberation Sans, Arial, sans-serif" font-size="9.3" fill="#161616" stroke="#161616" stroke-width="0.22" textLength="24.97" lengthAdjust="spacingAndGlyphs">L1236</text>
<text transform="translate(166.50,28.00) rotate(-35)" font-family="Liberation Sans, Arial, sans-serif" font-size="9.3" fill="#161616" stroke="#161616" stroke-width="0.22" textLength="27.95" lengthAdjust="spacingAndGlyphs">U-HO1</text>
<text transform="translate(193.50,29.00) rotate(-35)" font-family="Liberation Sans, Arial, sans-serif" font-size="9.3" fill="#161616" stroke="#161616" stroke-width="0.22" textLength="37.42" lengthAdjust="spacingAndGlyphs">SUP-HD1</text>
<text transform="translate(308.30,26.60) rotate(-35)" font-family="Liberation Sans, Arial, sans-serif" font-size="9.3" fill="#161616" stroke="#161616" stroke-width="0.22" textLength="28.67" lengthAdjust="spacingAndGlyphs">KM-H2</text>
<text transform="translate(335.30,26.60) rotate(-35)" font-family="Liberation Sans, Arial, sans-serif" font-size="9.3" fill="#161616" stroke="#161616" stroke-width="0.22" textLength="19.80" lengthAdjust="spacingAndGlyphs">L428</text>
<text transform="translate(359.00,27.80) rotate(-35)" font-family="Liberation Sans, Arial, sans-serif" font-size="9.3" fill="#161616" stroke="#161616" stroke-width="0.22" textLength="24.97" lengthAdjust="spacingAndGlyphs">L1236</text>
<text transform="translate(386.00,27.30) rotate(-35)" font-family="Liberation Sans, Arial, sans-serif" font-size="9.3" fill="#161616" stroke="#161616" stroke-width="0.22" textLength="27.95" lengthAdjust="spacingAndGlyphs">U-HO1</text>
<text transform="translate(413.00,28.60) rotate(-35)" font-family="Liberation Sans, Arial, sans-serif" font-size="9.3" fill="#161616" stroke="#161616" stroke-width="0.22" textLength="37.42" lengthAdjust="spacingAndGlyphs">SUP-HD1</text>
<defs><linearGradient id="rg" x1="0" x2="1" y1="0" y2="0"><stop offset="0" stop-color="#d64242"/><stop offset="0.45" stop-color="#e26666"/><stop offset="1" stop-color="#f0a0a0"/></linearGradient><linearGradient id="cs" x1="0" x2="1" y1="0" y2="0"><stop offset="0" stop-color="#84c642"/><stop offset="0.28" stop-color="#74ae3c"/><stop offset="0.42" stop-color="#22340f"/><stop offset="0.5" stop-color="#050505"/><stop offset="0.58" stop-color="#4a1210"/><stop offset="0.72" stop-color="#cc3424"/><stop offset="1" stop-color="#e23c28"/></linearGradient></defs>
<rect x="199.6" y="309.3" width="103.6" height="5.7" fill="url(#cs)"/>
<text x="205.2" y="324.6" font-family="Liberation Sans, Arial, sans-serif" font-size="6.5" font-weight="bold" fill="#222" text-anchor="middle">-4</text>
<text x="251.4" y="324.6" font-family="Liberation Sans, Arial, sans-serif" font-size="6.5" font-weight="bold" fill="#222" text-anchor="middle">0</text>
<text x="298.0" y="324.6" font-family="Liberation Sans, Arial, sans-serif" font-size="6.5" font-weight="bold" fill="#222" text-anchor="middle">+4</text>
<text x="1.2" y="12.1" font-family="Liberation Sans, Arial, sans-serif" font-size="13.3" font-weight="bold" fill="#000">A</text>
<text x="0.4" y="336.9" font-family="Liberation Sans, Arial, sans-serif" font-size="13.3" font-weight="bold" fill="#000">B</text>
<text x="276.8" y="337.5" font-family="Liberation Sans, Arial, sans-serif" font-size="13.3" font-weight="bold" fill="#000">C</text>
<text x="-0.2" y="568.7" font-family="Liberation Sans, Arial, sans-serif" font-size="13.3" font-weight="bold" fill="#000">D</text>
<text x="276.3" y="568.8" font-family="Liberation Sans, Arial, sans-serif" font-size="13.3" font-weight="bold" fill="#000">E</text>
<rect x="10.80" y="337.80" width="227.70" height="218.50" fill="#eceae1"/>
<rect x="38.00" y="339.60" width="197.00" height="185.90" fill="#ffffff" stroke="#dcddd6" stroke-width="0.8"/>
<line x1="56.95" x2="56.95" y1="340.10" y2="428.00" stroke="#f0f0f0" stroke-width="0.6"/>
<line x1="56.95" x2="56.95" y1="465.50" y2="525.00" stroke="#f0f0f0" stroke-width="0.6"/>
<line x1="75.90" x2="75.90" y1="340.10" y2="428.00" stroke="#f0f0f0" stroke-width="0.6"/>
<line x1="75.90" x2="75.90" y1="465.50" y2="525.00" stroke="#f0f0f0" stroke-width="0.6"/>
<line x1="94.85" x2="94.85" y1="340.10" y2="428.00" stroke="#f0f0f0" stroke-width="0.6"/>
<line x1="94.85" x2="94.85" y1="465.50" y2="525.00" stroke="#f0f0f0" stroke-width="0.6"/>
<line x1="113.80" x2="113.80" y1="340.10" y2="428.00" stroke="#f0f0f0" stroke-width="0.6"/>
<line x1="113.80" x2="113.80" y1="465.50" y2="525.00" stroke="#f0f0f0" stroke-width="0.6"/>
<line x1="132.75" x2="132.75" y1="340.10" y2="428.00" stroke="#f0f0f0" stroke-width="0.6"/>
<line x1="132.75" x2="132.75" y1="465.50" y2="525.00" stroke="#f0f0f0" stroke-width="0.6"/>
<line x1="151.70" x2="151.70" y1="340.10" y2="428.00" stroke="#f0f0f0" stroke-width="0.6"/>
<line x1="151.70" x2="151.70" y1="465.50" y2="525.00" stroke="#f0f0f0" stroke-width="0.6"/>
<line x1="170.65" x2="170.65" y1="340.10" y2="428.00" stroke="#f0f0f0" stroke-width="0.6"/>
<line x1="170.65" x2="170.65" y1="465.50" y2="525.00" stroke="#f0f0f0" stroke-width="0.6"/>
<line x1="189.60" x2="189.60" y1="340.10" y2="428.00" stroke="#f0f0f0" stroke-width="0.6"/>
<line x1="189.60" x2="189.60" y1="465.50" y2="525.00" stroke="#f0f0f0" stroke-width="0.6"/>
<line x1="208.55" x2="208.55" y1="340.10" y2="428.00" stroke="#f0f0f0" stroke-width="0.6"/>
<line x1="208.55" x2="208.55" y1="465.50" y2="525.00" stroke="#f0f0f0" stroke-width="0.6"/>
<line x1="227.50" x2="227.50" y1="340.10" y2="428.00" stroke="#f0f0f0" stroke-width="0.6"/>
<line x1="227.50" x2="227.50" y1="465.50" y2="525.00" stroke="#f0f0f0" stroke-width="0.6"/>
<line x1="38.00" x2="235.00" y1="349.30" y2="349.30" stroke="#f0f0f0" stroke-width="0.6"/>
<text x="35.00" y="351.10" font-family="Liberation Sans, Arial, sans-serif" font-size="5.10" fill="#444" text-anchor="end">0.20</text>
<line x1="38.00" x2="235.00" y1="364.15" y2="364.15" stroke="#f0f0f0" stroke-width="0.6"/>
<text x="35.00" y="365.95" font-family="Liberation Sans, Arial, sans-serif" font-size="5.10" fill="#444" text-anchor="end">0.15</text>
<line x1="38.00" x2="235.00" y1="379.00" y2="379.00" stroke="#f0f0f0" stroke-width="0.6"/>
<text x="35.00" y="380.80" font-family="Liberation Sans, Arial, sans-serif" font-size="5.10" fill="#444" text-anchor="end">0.10</text>
<line x1="38.00" x2="235.00" y1="393.85" y2="393.85" stroke="#f0f0f0" stroke-width="0.6"/>
<text x="35.00" y="395.65" font-family="Liberation Sans, Arial, sans-serif" font-size="5.10" fill="#444" text-anchor="end">0.05</text>
<line x1="38.00" x2="235.00" y1="408.70" y2="408.70" stroke="#b0b0b0" stroke-width="0.7"/>
<text x="35.00" y="410.50" font-family="Liberation Sans, Arial, sans-serif" font-size="5.10" fill="#444" text-anchor="end">0.00</text>
<line x1="38.00" x2="235.00" y1="423.55" y2="423.55" stroke="#f0f0f0" stroke-width="0.6"/>
<text x="35.00" y="425.35" font-family="Liberation Sans, Arial, sans-serif" font-size="5.10" fill="#444" text-anchor="end">-0.05</text>
<line x1="38.00" x2="235.00" y1="428.00" y2="428.00" stroke="#d4d4ce" stroke-width="0.8"/>
<rect x="46.10" y="429.50" width="0.80" height="28.00" fill="#7a7a7a"/>
<rect x="47.90" y="429.50" width="0.80" height="28.00" fill="#7a7a7a"/>
<rect x="57.20" y="429.50" width="0.80" height="28.00" fill="#7a7a7a"/>
<rect x="58.65" y="429.50" width="1.10" height="28.00" fill="#2a2a2a"/>
<rect x="59.80" y="429.50" width="0.80" height="28.00" fill="#7a7a7a"/>
<rect x="73.40" y="429.50" width="0.80" height="28.00" fill="#7a7a7a"/>
<rect x="76.00" y="429.50" width="0.80" height="28.00" fill="#7a7a7a"/>
<rect x="77.40" y="429.50" width="0.80" height="28.00" fill="#7a7a7a"/>
<rect x="86.10" y="429.50" width="0.80" height="28.00" fill="#7a7a7a"/>
<rect x="87.35" y="429.50" width="1.10" height="28.00" fill="#2a2a2a"/>
<rect x="88.70" y="429.50" width="0.80" height="28.00" fill="#7a7a7a"/>
<rect x="99.80" y="429.50" width="0.80" height="28.00" fill="#7a7a7a"/>
<rect x="103.30" y="429.50" width="0.80" height="28.00" fill="#7a7a7a"/>
<rect x="108.30" y="429.50" width="0.80" height="28.00" fill="#7a7a7a"/>
<rect x="110.90" y="429.50" width="0.80" height="28.00" fill="#7a7a7a"/>
<rect x="117.80" y="429.50" width="0.80" height="28.00" fill="#7a7a7a"/>
<rect x="121.80" y="429.50" width="0.80" height="28.00" fill="#7a7a7a"/>
<rect x="124.35" y="429.50" width="1.10" height="28.00" fill="#2a2a2a"/>
<rect x="125.90" y="429.50" width="0.80" height="28.00" fill="#7a7a7a"/>
<rect x="132.50" y="429.50" width="0.80" height="28.00" fill="#7a7a7a"/>
<rect x="135.60" y="429.50" width="0.80" height="28.00" fill="#7a7a7a"/>
<rect x="136.60" y="429.50" width="0.80" height="28.00" fill="#7a7a7a"/>
<rect x="141.60" y="429.50" width="0.80" height="28.00" fill="#7a7a7a"/>
<rect x="143.60" y="429.50" width="0.80" height="28.00" fill="#7a7a7a"/>
<rect x="144.95" y="429.50" width="1.10" height="28.00" fill="#2a2a2a"/>
<rect x="146.30" y="429.50" width="0.80" height="28.00" fill="#7a7a7a"/>
<rect x="150.40" y="429.50" width="0.80" height="28.00" fill="#7a7a7a"/>
<rect x="164.50" y="429.50" width="0.80" height="28.00" fill="#7a7a7a"/>
<rect x="170.90" y="429.50" width="0.80" height="28.00" fill="#7a7a7a"/>
<rect x="172.60" y="429.50" width="0.80" height="28.00" fill="#7a7a7a"/>
<rect x="173.85" y="429.50" width="1.10" height="28.00" fill="#2a2a2a"/>
<rect x="175.00" y="429.50" width="0.80" height="28.00" fill="#7a7a7a"/>
<rect x="178.00" y="429.50" width="0.80" height="28.00" fill="#7a7a7a"/>
<rect x="184.10" y="429.50" width="0.80" height="28.00" fill="#7a7a7a"/>
<rect x="190.10" y="429.50" width="0.80" height="28.00" fill="#7a7a7a"/>
<rect x="191.45" y="429.50" width="1.10" height="28.00" fill="#2a2a2a"/>
<rect x="192.80" y="429.50" width="0.80" height="28.00" fill="#7a7a7a"/>
<rect x="203.60" y="429.50" width="0.80" height="28.00" fill="#7a7a7a"/>
<rect x="218.40" y="429.50" width="0.80" height="28.00" fill="#7a7a7a"/>
<rect x="223.50" y="429.50" width="0.80" height="28.00" fill="#7a7a7a"/>
<line x1="38.00" x2="235.00" y1="458.30" y2="458.30" stroke="#e4e4e4" stroke-width="0.6"/>
<line x1="38.00" x2="235.00" y1="465.40" y2="465.40" stroke="#e4e4e4" stroke-width="0.6"/>
<rect x="37.50" y="458.30" width="120.00" height="6.70" fill="url(#rg)"/>
<rect x="157.20" y="458.30" width="9.73" height="6.70" fill="#f6bcd6"/>
<rect x="166.63" y="458.30" width="9.73" height="6.70" fill="#ecc6ee"/>
<rect x="176.07" y="458.30" width="9.73" height="6.70" fill="#dccafa"/>
<rect x="185.50" y="458.30" width="12.80" height="6.70" fill="#9a9af4"/>
<rect x="198.00" y="458.30" width="21.10" height="6.70" fill="#6464e8"/>
<rect x="218.80" y="458.30" width="7.50" height="6.70" fill="#2c2ccc"/>
<polygon points="38.00,501.50 38.00,472.82 39.90,478.50 41.79,481.34 45.58,484.18 49.37,486.16 58.84,488.15 68.32,489.29 87.27,491.84 106.22,493.83 129.91,496.39 169.32,501.50 189.60,504.62 208.55,507.75 219.92,510.02 223.71,512.86 225.23,516.27 225.98,521.38 225.98,501.50" fill="#cdcdcd"/>
<text x="35.00" y="474.90" font-family="Liberation Sans, Arial, sans-serif" font-size="5.20" fill="#444" text-anchor="end">1.0</text>
<text x="35.00" y="489.10" font-family="Liberation Sans, Arial, sans-serif" font-size="5.20" fill="#444" text-anchor="end">0.5</text>
<text x="35.00" y="503.30" font-family="Liberation Sans, Arial, sans-serif" font-size="5.20" fill="#444" text-anchor="end">0.0</text>
<text x="35.00" y="517.50" font-family="Liberation Sans, Arial, sans-serif" font-size="5.20" fill="#444" text-anchor="end">-0.5</text>
<line x1="169.32" x2="169.32" y1="466.00" y2="525.00" stroke="#b4b4b4" stroke-width="0.5" stroke-dasharray="1,1"/>
<text x="168.82" y="496.90" font-family="Liberation Sans, Arial, sans-serif" font-size="4.45" fill="#222" text-anchor="middle">Zero cross at 693</text>
<text x="38.80" y="470.00" font-family="Liberation Sans, Arial, sans-serif" font-size="5.00" fill="#cc3030">'OHT' (positively correlated)</text>
<text x="204.76" y="522.30" font-family="Liberation Sans, Arial, sans-serif" font-size="5.00" fill="#3a3ad0" text-anchor="end">'Control' (negatively correlated)</text>
<text x="38.00" y="531.60" font-family="Liberation Sans, Arial, sans-serif" font-size="4.60" fill="#444" text-anchor="middle">0</text>
<text x="56.95" y="531.60" font-family="Liberation Sans, Arial, sans-serif" font-size="4.60" fill="#444" text-anchor="middle">100</text>
<text x="75.90" y="531.60" font-family="Liberation Sans, Arial, sans-serif" font-size="4.60" fill="#444" text-anchor="middle">200</text>
<text x="94.85" y="531.60" font-family="Liberation Sans, Arial, sans-serif" font-size="4.60" fill="#444" text-anchor="middle">300</text>
<text x="113.80" y="531.60" font-family="Liberation Sans, Arial, sans-serif" font-size="4.60" fill="#444" text-anchor="middle">400</text>
<text x="132.75" y="531.60" font-family="Liberation Sans, Arial, sans-serif" font-size="4.60" fill="#444" text-anchor="middle">500</text>
<text x="151.70" y="531.60" font-family="Liberation Sans, Arial, sans-serif" font-size="4.60" fill="#444" text-anchor="middle">600</text>
<text x="170.65" y="531.60" font-family="Liberation Sans, Arial, sans-serif" font-size="4.60" fill="#444" text-anchor="middle">700</text>
<text x="189.60" y="531.60" font-family="Liberation Sans, Arial, sans-serif" font-size="4.60" fill="#444" text-anchor="middle">800</text>
<text x="208.55" y="531.60" font-family="Liberation Sans, Arial, sans-serif" font-size="4.60" fill="#444" text-anchor="middle">900</text>
<text x="227.50" y="531.60" font-family="Liberation Sans, Arial, sans-serif" font-size="4.60" fill="#444" text-anchor="middle">1,000</text>
<text x="136.80" y="539.20" font-family="Liberation Sans, Arial, sans-serif" font-size="5.60" fill="#333" text-anchor="middle">Rank in Ordered Dataset</text>
<text transform="translate(19.80,384.00) rotate(-90)" font-family="Liberation Sans, Arial, sans-serif" font-size="5.70" fill="#444" text-anchor="middle">Enrichment score (ES)</text>
<text transform="translate(23.00,498.00) rotate(-90)" font-family="Liberation Sans, Arial, sans-serif" font-size="5.45" fill="#444" text-anchor="middle">Ranked list metric (Signal2Noise)</text>
<rect x="45.30" y="545.00" width="157.70" height="10.00" fill="#ffffff" stroke="#8e8e8e" stroke-width="0.85"/>
<line x1="47.80" x2="53.30" y1="550.00" y2="550.00" stroke="#88da42" stroke-width="1"/>
<text x="56.20" y="552.00" font-family="Liberation Sans, Arial, sans-serif" font-size="5.55" fill="#222">Enrichment profile</text>
<line x1="103.70" x2="110.10" y1="550.00" y2="550.00" stroke="#333" stroke-width="0.8"/>
<text x="112.30" y="552.00" font-family="Liberation Sans, Arial, sans-serif" font-size="5.55" fill="#222">Hits</text>
<line x1="135.80" x2="142.80" y1="550.00" y2="550.00" stroke="#dedede" stroke-width="0.8"/>
<text x="145.00" y="552.00" font-family="Liberation Sans, Arial, sans-serif" font-size="5.66" fill="#222">Ranking metric scores</text>
<polyline points="37.80,408.60 46.50,423.90 49.00,396.30 56.40,410.10 58.60,385.80 60.70,364.60 73.40,386.80 75.50,377.30 78.70,353.00 86.00,366.70 87.50,358.30 90.30,343.00 98.80,359.30 100.90,355.00 103.00,358.70 105.00,353.60 107.80,357.80 111.40,348.80 118.90,360.00 121.00,355.00 123.00,358.70 126.90,346.60 132.60,357.20 134.00,353.00 135.80,356.20 137.00,348.50 138.90,351.90 141.60,354.50 147.30,343.90 149.50,347.70 150.70,346.00 163.80,367.80 164.90,366.70 172.30,379.40 177.60,385.80 178.70,384.70 184.60,394.20 185.40,392.10 190.30,399.50 193.50,390.40 203.60,404.80 204.50,402.30 217.80,423.90 220.50,409.00 222.70,415.00 224.80,405.90 226.90,408.60" fill="none" stroke="#8ade46" stroke-width="1.55" stroke-linejoin="round" stroke-linecap="round"/>
<text x="180.80" y="359.60" font-family="Liberation Serif, Times New Roman, serif" font-size="10.8" fill="#1c1c1c" stroke="#1c1c1c" stroke-width="0.22" textLength="50.70" lengthAdjust="spacingAndGlyphs">GC vs. HRS</text>
<text x="78.00" y="393.00" font-family="Liberation Serif, Times New Roman, serif" font-size="10.8" fill="#1c1c1c" stroke="#1c1c1c" stroke-width="0.22" textLength="38.20" lengthAdjust="spacingAndGlyphs">p=0.622</text>
<text x="78.00" y="405.60" font-family="Liberation Serif, Times New Roman, serif" font-size="10.8" fill="#1c1c1c" stroke="#1c1c1c" stroke-width="0.22" textLength="51.10" lengthAdjust="spacingAndGlyphs">NES=0.895</text>
<text x="78.00" y="418.10" font-family="Liberation Serif, Times New Roman, serif" font-size="10.8" fill="#1c1c1c" stroke="#1c1c1c" stroke-width="0.22" textLength="51.10" lengthAdjust="spacingAndGlyphs">FDR=0.547</text>
<rect x="287.90" y="338.00" width="230.20" height="217.00" fill="#eceae1"/>
<rect x="311.00" y="339.70" width="204.00" height="184.10" fill="#ffffff" stroke="#dcddd6" stroke-width="0.8"/>
<line x1="330.60" x2="330.60" y1="340.20" y2="428.30" stroke="#f0f0f0" stroke-width="0.6"/>
<line x1="330.60" x2="330.60" y1="465.00" y2="523.30" stroke="#f0f0f0" stroke-width="0.6"/>
<line x1="350.20" x2="350.20" y1="340.20" y2="428.30" stroke="#f0f0f0" stroke-width="0.6"/>
<line x1="350.20" x2="350.20" y1="465.00" y2="523.30" stroke="#f0f0f0" stroke-width="0.6"/>
<line x1="369.80" x2="369.80" y1="340.20" y2="428.30" stroke="#f0f0f0" stroke-width="0.6"/>
<line x1="369.80" x2="369.80" y1="465.00" y2="523.30" stroke="#f0f0f0" stroke-width="0.6"/>
<line x1="389.40" x2="389.40" y1="340.20" y2="428.30" stroke="#f0f0f0" stroke-width="0.6"/>
<line x1="389.40" x2="389.40" y1="465.00" y2="523.30" stroke="#f0f0f0" stroke-width="0.6"/>
<line x1="409.00" x2="409.00" y1="340.20" y2="428.30" stroke="#f0f0f0" stroke-width="0.6"/>
<line x1="409.00" x2="409.00" y1="465.00" y2="523.30" stroke="#f0f0f0" stroke-width="0.6"/>
<line x1="428.60" x2="428.60" y1="340.20" y2="428.30" stroke="#f0f0f0" stroke-width="0.6"/>
<line x1="428.60" x2="428.60" y1="465.00" y2="523.30" stroke="#f0f0f0" stroke-width="0.6"/>
<line x1="448.20" x2="448.20" y1="340.20" y2="428.30" stroke="#f0f0f0" stroke-width="0.6"/>
<line x1="448.20" x2="448.20" y1="465.00" y2="523.30" stroke="#f0f0f0" stroke-width="0.6"/>
<line x1="467.80" x2="467.80" y1="340.20" y2="428.30" stroke="#f0f0f0" stroke-width="0.6"/>
<line x1="467.80" x2="467.80" y1="465.00" y2="523.30" stroke="#f0f0f0" stroke-width="0.6"/>
<line x1="487.40" x2="487.40" y1="340.20" y2="428.30" stroke="#f0f0f0" stroke-width="0.6"/>
<line x1="487.40" x2="487.40" y1="465.00" y2="523.30" stroke="#f0f0f0" stroke-width="0.6"/>
<line x1="507.00" x2="507.00" y1="340.20" y2="428.30" stroke="#f0f0f0" stroke-width="0.6"/>
<line x1="507.00" x2="507.00" y1="465.00" y2="523.30" stroke="#f0f0f0" stroke-width="0.6"/>
<line x1="311.00" x2="515.00" y1="343.00" y2="343.00" stroke="#f0f0f0" stroke-width="0.6"/>
<text x="308.00" y="344.80" font-family="Liberation Sans, Arial, sans-serif" font-size="5.28" fill="#444" text-anchor="end">0.40</text>
<line x1="311.00" x2="515.00" y1="351.50" y2="351.50" stroke="#f0f0f0" stroke-width="0.6"/>
<text x="308.00" y="353.30" font-family="Liberation Sans, Arial, sans-serif" font-size="5.28" fill="#444" text-anchor="end">0.35</text>
<line x1="311.00" x2="515.00" y1="360.00" y2="360.00" stroke="#f0f0f0" stroke-width="0.6"/>
<text x="308.00" y="361.80" font-family="Liberation Sans, Arial, sans-serif" font-size="5.28" fill="#444" text-anchor="end">0.30</text>
<line x1="311.00" x2="515.00" y1="368.50" y2="368.50" stroke="#f0f0f0" stroke-width="0.6"/>
<text x="308.00" y="370.30" font-family="Liberation Sans, Arial, sans-serif" font-size="5.28" fill="#444" text-anchor="end">0.25</text>
<line x1="311.00" x2="515.00" y1="377.00" y2="377.00" stroke="#f0f0f0" stroke-width="0.6"/>
<text x="308.00" y="378.80" font-family="Liberation Sans, Arial, sans-serif" font-size="5.28" fill="#444" text-anchor="end">0.20</text>
<line x1="311.00" x2="515.00" y1="385.50" y2="385.50" stroke="#f0f0f0" stroke-width="0.6"/>
<text x="308.00" y="387.30" font-family="Liberation Sans, Arial, sans-serif" font-size="5.28" fill="#444" text-anchor="end">0.15</text>
<line x1="311.00" x2="515.00" y1="394.00" y2="394.00" stroke="#f0f0f0" stroke-width="0.6"/>
<text x="308.00" y="395.80" font-family="Liberation Sans, Arial, sans-serif" font-size="5.28" fill="#444" text-anchor="end">0.10</text>
<line x1="311.00" x2="515.00" y1="402.50" y2="402.50" stroke="#f0f0f0" stroke-width="0.6"/>
<text x="308.00" y="404.30" font-family="Liberation Sans, Arial, sans-serif" font-size="5.28" fill="#444" text-anchor="end">0.05</text>
<line x1="311.00" x2="515.00" y1="411.00" y2="411.00" stroke="#b0b0b0" stroke-width="0.7"/>
<text x="308.00" y="412.80" font-family="Liberation Sans, Arial, sans-serif" font-size="5.28" fill="#444" text-anchor="end">0.00</text>
<line x1="311.00" x2="515.00" y1="419.50" y2="419.50" stroke="#f0f0f0" stroke-width="0.6"/>
<text x="308.00" y="421.30" font-family="Liberation Sans, Arial, sans-serif" font-size="5.28" fill="#444" text-anchor="end">-0.05</text>
<line x1="311.00" x2="515.00" y1="427.60" y2="427.60" stroke="#f0f0f0" stroke-width="0.6"/>
<text x="308.00" y="429.40" font-family="Liberation Sans, Arial, sans-serif" font-size="5.28" fill="#444" text-anchor="end">-0.10</text>
<line x1="311.00" x2="515.00" y1="428.30" y2="428.30" stroke="#d4d4ce" stroke-width="0.8"/>
<rect x="311.50" y="429.30" width="0.80" height="28.20" fill="#7a7a7a"/>
<rect x="315.40" y="429.30" width="0.80" height="28.20" fill="#7a7a7a"/>
<rect x="320.00" y="429.30" width="0.80" height="28.20" fill="#7a7a7a"/>
<rect x="323.80" y="429.30" width="0.80" height="28.20" fill="#7a7a7a"/>
<rect x="326.10" y="429.30" width="0.80" height="28.20" fill="#7a7a7a"/>
<rect x="330.80" y="429.30" width="0.80" height="28.20" fill="#7a7a7a"/>
<rect x="336.10" y="429.30" width="0.80" height="28.20" fill="#7a7a7a"/>
<rect x="340.80" y="429.30" width="0.80" height="28.20" fill="#7a7a7a"/>
<rect x="348.40" y="429.30" width="0.80" height="28.20" fill="#7a7a7a"/>
<rect x="349.85" y="429.30" width="1.10" height="28.20" fill="#2a2a2a"/>
<rect x="350.80" y="429.30" width="0.80" height="28.20" fill="#7a7a7a"/>
<rect x="361.20" y="429.30" width="0.80" height="28.20" fill="#7a7a7a"/>
<rect x="362.80" y="429.30" width="0.80" height="28.20" fill="#7a7a7a"/>
<rect x="386.25" y="429.30" width="0.90" height="28.20" fill="#909090"/>
<rect x="388.15" y="429.30" width="0.90" height="28.20" fill="#909090"/>
<rect x="389.75" y="429.30" width="0.90" height="28.20" fill="#909090"/>
<rect x="412.60" y="429.30" width="0.80" height="28.20" fill="#7a7a7a"/>
<rect x="417.30" y="429.30" width="1.40" height="28.20" fill="#555"/>
<rect x="419.60" y="429.30" width="0.80" height="28.20" fill="#7a7a7a"/>
<rect x="421.30" y="429.30" width="1.40" height="28.20" fill="#555"/>
<rect x="427.10" y="429.30" width="0.80" height="28.20" fill="#7a7a7a"/>
<rect x="442.10" y="429.30" width="0.80" height="28.20" fill="#7a7a7a"/>
<rect x="455.85" y="429.30" width="0.80" height="28.20" fill="#7a7a7a"/>
<rect x="462.60" y="429.30" width="0.80" height="28.20" fill="#7a7a7a"/>
<rect x="464.60" y="429.30" width="0.80" height="28.20" fill="#7a7a7a"/>
<rect x="465.85" y="429.30" width="0.80" height="28.20" fill="#7a7a7a"/>
<rect x="470.85" y="429.30" width="0.80" height="28.20" fill="#7a7a7a"/>
<rect x="482.60" y="429.30" width="0.80" height="28.20" fill="#7a7a7a"/>
<rect x="497.60" y="429.30" width="0.80" height="28.20" fill="#7a7a7a"/>
<rect x="502.45" y="429.30" width="1.10" height="28.20" fill="#2a2a2a"/>
<line x1="311.00" x2="515.00" y1="457.50" y2="457.50" stroke="#e4e4e4" stroke-width="0.6"/>
<line x1="311.00" x2="515.00" y1="464.90" y2="464.90" stroke="#e4e4e4" stroke-width="0.6"/>
<rect x="310.50" y="457.50" width="124.30" height="7.00" fill="url(#rg)"/>
<rect x="434.50" y="457.50" width="10.07" height="7.00" fill="#f6bcd6"/>
<rect x="444.27" y="457.50" width="10.07" height="7.00" fill="#ecc6ee"/>
<rect x="454.03" y="457.50" width="10.07" height="7.00" fill="#dccafa"/>
<rect x="463.80" y="457.50" width="12.80" height="7.00" fill="#9a9af4"/>
<rect x="476.30" y="457.50" width="22.80" height="7.00" fill="#6464e8"/>
<rect x="498.80" y="457.50" width="6.70" height="7.00" fill="#2c2ccc"/>
<polygon points="311.00,500.75 311.00,472.07 312.96,477.75 314.92,480.59 318.84,483.43 322.76,485.41 332.56,487.40 342.36,488.54 361.96,491.09 381.56,493.08 406.06,495.64 446.83,500.75 467.80,503.87 487.40,507.00 499.16,509.27 503.08,512.11 504.65,515.52 505.43,520.63 505.43,500.75" fill="#cdcdcd"/>
<text x="308.00" y="474.15" font-family="Liberation Sans, Arial, sans-serif" font-size="5.38" fill="#444" text-anchor="end">1.0</text>
<text x="308.00" y="488.35" font-family="Liberation Sans, Arial, sans-serif" font-size="5.38" fill="#444" text-anchor="end">0.5</text>
<text x="308.00" y="502.55" font-family="Liberation Sans, Arial, sans-serif" font-size="5.38" fill="#444" text-anchor="end">0.0</text>
<text x="308.00" y="516.75" font-family="Liberation Sans, Arial, sans-serif" font-size="5.38" fill="#444" text-anchor="end">-0.5</text>
<line x1="446.83" x2="446.83" y1="465.50" y2="523.30" stroke="#b4b4b4" stroke-width="0.5" stroke-dasharray="1,1"/>
<text x="446.33" y="496.15" font-family="Liberation Sans, Arial, sans-serif" font-size="4.61" fill="#222" text-anchor="middle">Zero cross at 693</text>
<text x="311.80" y="469.50" font-family="Liberation Sans, Arial, sans-serif" font-size="5.18" fill="#cc3030">'OHT' (positively correlated)</text>
<text x="483.48" y="520.60" font-family="Liberation Sans, Arial, sans-serif" font-size="5.18" fill="#3a3ad0" text-anchor="end">'Control' (negatively correlated)</text>
<text x="311.00" y="529.90" font-family="Liberation Sans, Arial, sans-serif" font-size="4.76" fill="#444" text-anchor="middle">0</text>
<text x="330.60" y="529.90" font-family="Liberation Sans, Arial, sans-serif" font-size="4.76" fill="#444" text-anchor="middle">100</text>
<text x="350.20" y="529.90" font-family="Liberation Sans, Arial, sans-serif" font-size="4.76" fill="#444" text-anchor="middle">200</text>
<text x="369.80" y="529.90" font-family="Liberation Sans, Arial, sans-serif" font-size="4.76" fill="#444" text-anchor="middle">300</text>
<text x="389.40" y="529.90" font-family="Liberation Sans, Arial, sans-serif" font-size="4.76" fill="#444" text-anchor="middle">400</text>
<text x="409.00" y="529.90" font-family="Liberation Sans, Arial, sans-serif" font-size="4.76" fill="#444" text-anchor="middle">500</text>
<text x="428.60" y="529.90" font-family="Liberation Sans, Arial, sans-serif" font-size="4.76" fill="#444" text-anchor="middle">600</text>
<text x="448.20" y="529.90" font-family="Liberation Sans, Arial, sans-serif" font-size="4.76" fill="#444" text-anchor="middle">700</text>
<text x="467.80" y="529.90" font-family="Liberation Sans, Arial, sans-serif" font-size="4.76" fill="#444" text-anchor="middle">800</text>
<text x="487.40" y="529.90" font-family="Liberation Sans, Arial, sans-serif" font-size="4.76" fill="#444" text-anchor="middle">900</text>
<text x="507.00" y="529.90" font-family="Liberation Sans, Arial, sans-serif" font-size="4.76" fill="#444" text-anchor="middle">1,000</text>
<text x="413.30" y="537.50" font-family="Liberation Sans, Arial, sans-serif" font-size="5.80" fill="#333" text-anchor="middle">Rank in Ordered Dataset</text>
<text transform="translate(292.50,384.00) rotate(-90)" font-family="Liberation Sans, Arial, sans-serif" font-size="5.90" fill="#444" text-anchor="middle">Enrichment score (ES)</text>
<text transform="translate(295.70,494.50) rotate(-90)" font-family="Liberation Sans, Arial, sans-serif" font-size="5.64" fill="#444" text-anchor="middle">Ranked list metric (Signal2Noise)</text>
<rect x="318.80" y="543.00" width="163.20" height="10.50" fill="#ffffff" stroke="#8e8e8e" stroke-width="0.85"/>
<line x1="321.39" x2="327.08" y1="548.25" y2="548.25" stroke="#88da42" stroke-width="1"/>
<text x="330.08" y="550.25" font-family="Liberation Sans, Arial, sans-serif" font-size="5.74" fill="#222">Enrichment profile</text>
<line x1="379.24" x2="385.86" y1="548.25" y2="548.25" stroke="#333" stroke-width="0.8"/>
<text x="388.14" y="550.25" font-family="Liberation Sans, Arial, sans-serif" font-size="5.74" fill="#222">Hits</text>
<line x1="412.46" x2="419.70" y1="548.25" y2="548.25" stroke="#dedede" stroke-width="0.8"/>
<text x="421.98" y="550.25" font-family="Liberation Sans, Arial, sans-serif" font-size="5.86" fill="#222">Ranking metric scores</text>
<polyline points="310.80,411.20 311.20,398.00 315.00,402.70 317.00,392.70 319.60,397.30 321.20,380.40 324.70,385.00 326.20,375.80 328.00,378.00 329.90,371.20 331.50,373.50 333.50,364.20 335.80,367.30 337.30,362.00 339.60,365.00 341.90,361.20 346.50,365.80 348.80,361.20 350.40,363.50 351.20,358.00 353.00,344.20 358.80,351.20 360.00,348.80 361.60,350.40 364.20,345.00 367.30,345.80 386.70,364.10 390.80,357.90 412.30,376.70 414.50,375.40 417.70,378.60 424.40,374.80 427.90,375.90 441.90,387.50 455.40,399.60 458.00,400.40 462.00,404.50 463.50,403.10 466.70,404.50 467.50,402.80 470.20,405.00 471.50,404.00 481.00,413.00 482.30,411.00 497.10,423.90 498.50,415.80 501.70,419.00 503.90,408.20 506.00,410.40" fill="none" stroke="#8ade46" stroke-width="1.55" stroke-linejoin="round" stroke-linecap="round"/>
<text x="450.50" y="362.00" font-family="Liberation Serif, Times New Roman, serif" font-size="10.8" fill="#1c1c1c" stroke="#1c1c1c" stroke-width="0.22" textLength="47.20" lengthAdjust="spacingAndGlyphs">M vs. HRS</text>
<text x="330.40" y="394.80" font-family="Liberation Serif, Times New Roman, serif" font-size="10.8" fill="#1c1c1c" stroke="#1c1c1c" stroke-width="0.22" textLength="38.00" lengthAdjust="spacingAndGlyphs">p=0.097</text>
<text x="330.40" y="407.60" font-family="Liberation Serif, Times New Roman, serif" font-size="10.8" fill="#1c1c1c" stroke="#1c1c1c" stroke-width="0.22" textLength="51.10" lengthAdjust="spacingAndGlyphs">NES=1.361</text>
<text x="330.40" y="420.40" font-family="Liberation Serif, Times New Roman, serif" font-size="10.8" fill="#1c1c1c" stroke="#1c1c1c" stroke-width="0.22" textLength="51.10" lengthAdjust="spacingAndGlyphs">FDR=0.130</text>
<rect x="10.30" y="572.90" width="229.20" height="218.30" fill="#eceae1"/>
<rect x="36.80" y="574.70" width="198.70" height="185.30" fill="#ffffff" stroke="#dcddd6" stroke-width="0.8"/>
<line x1="55.87" x2="55.87" y1="575.20" y2="662.20" stroke="#f0f0f0" stroke-width="0.6"/>
<line x1="55.87" x2="55.87" y1="701.00" y2="759.50" stroke="#f0f0f0" stroke-width="0.6"/>
<line x1="74.94" x2="74.94" y1="575.20" y2="662.20" stroke="#f0f0f0" stroke-width="0.6"/>
<line x1="74.94" x2="74.94" y1="701.00" y2="759.50" stroke="#f0f0f0" stroke-width="0.6"/>
<line x1="94.01" x2="94.01" y1="575.20" y2="662.20" stroke="#f0f0f0" stroke-width="0.6"/>
<line x1="94.01" x2="94.01" y1="701.00" y2="759.50" stroke="#f0f0f0" stroke-width="0.6"/>
<line x1="113.08" x2="113.08" y1="575.20" y2="662.20" stroke="#f0f0f0" stroke-width="0.6"/>
<line x1="113.08" x2="113.08" y1="701.00" y2="759.50" stroke="#f0f0f0" stroke-width="0.6"/>
<line x1="132.15" x2="132.15" y1="575.20" y2="662.20" stroke="#f0f0f0" stroke-width="0.6"/>
<line x1="132.15" x2="132.15" y1="701.00" y2="759.50" stroke="#f0f0f0" stroke-width="0.6"/>
<line x1="151.22" x2="151.22" y1="575.20" y2="662.20" stroke="#f0f0f0" stroke-width="0.6"/>
<line x1="151.22" x2="151.22" y1="701.00" y2="759.50" stroke="#f0f0f0" stroke-width="0.6"/>
<line x1="170.29" x2="170.29" y1="575.20" y2="662.20" stroke="#f0f0f0" stroke-width="0.6"/>
<line x1="170.29" x2="170.29" y1="701.00" y2="759.50" stroke="#f0f0f0" stroke-width="0.6"/>
<line x1="189.36" x2="189.36" y1="575.20" y2="662.20" stroke="#f0f0f0" stroke-width="0.6"/>
<line x1="189.36" x2="189.36" y1="701.00" y2="759.50" stroke="#f0f0f0" stroke-width="0.6"/>
<line x1="208.43" x2="208.43" y1="575.20" y2="662.20" stroke="#f0f0f0" stroke-width="0.6"/>
<line x1="208.43" x2="208.43" y1="701.00" y2="759.50" stroke="#f0f0f0" stroke-width="0.6"/>
<line x1="227.50" x2="227.50" y1="575.20" y2="662.20" stroke="#f0f0f0" stroke-width="0.6"/>
<line x1="227.50" x2="227.50" y1="701.00" y2="759.50" stroke="#f0f0f0" stroke-width="0.6"/>
<line x1="36.80" x2="235.50" y1="580.50" y2="580.50" stroke="#f0f0f0" stroke-width="0.6"/>
<text x="33.80" y="582.30" font-family="Liberation Sans, Arial, sans-serif" font-size="5.14" fill="#444" text-anchor="end">0.45</text>
<line x1="36.80" x2="235.50" y1="589.25" y2="589.25" stroke="#f0f0f0" stroke-width="0.6"/>
<text x="33.80" y="591.05" font-family="Liberation Sans, Arial, sans-serif" font-size="5.14" fill="#444" text-anchor="end">0.40</text>
<line x1="36.80" x2="235.50" y1="598.00" y2="598.00" stroke="#f0f0f0" stroke-width="0.6"/>
<text x="33.80" y="599.80" font-family="Liberation Sans, Arial, sans-serif" font-size="5.14" fill="#444" text-anchor="end">0.35</text>
<line x1="36.80" x2="235.50" y1="606.80" y2="606.80" stroke="#f0f0f0" stroke-width="0.6"/>
<text x="33.80" y="608.60" font-family="Liberation Sans, Arial, sans-serif" font-size="5.14" fill="#444" text-anchor="end">0.30</text>
<line x1="36.80" x2="235.50" y1="615.60" y2="615.60" stroke="#f0f0f0" stroke-width="0.6"/>
<text x="33.80" y="617.40" font-family="Liberation Sans, Arial, sans-serif" font-size="5.14" fill="#444" text-anchor="end">0.25</text>
<line x1="36.80" x2="235.50" y1="624.40" y2="624.40" stroke="#f0f0f0" stroke-width="0.6"/>
<text x="33.80" y="626.20" font-family="Liberation Sans, Arial, sans-serif" font-size="5.14" fill="#444" text-anchor="end">0.20</text>
<line x1="36.80" x2="235.50" y1="633.20" y2="633.20" stroke="#f0f0f0" stroke-width="0.6"/>
<text x="33.80" y="635.00" font-family="Liberation Sans, Arial, sans-serif" font-size="5.14" fill="#444" text-anchor="end">0.15</text>
<line x1="36.80" x2="235.50" y1="642.00" y2="642.00" stroke="#f0f0f0" stroke-width="0.6"/>
<text x="33.80" y="643.80" font-family="Liberation Sans, Arial, sans-serif" font-size="5.14" fill="#444" text-anchor="end">0.10</text>
<line x1="36.80" x2="235.50" y1="650.75" y2="650.75" stroke="#f0f0f0" stroke-width="0.6"/>
<text x="33.80" y="652.55" font-family="Liberation Sans, Arial, sans-serif" font-size="5.14" fill="#444" text-anchor="end">0.05</text>
<line x1="36.80" x2="235.50" y1="659.50" y2="659.50" stroke="#b0b0b0" stroke-width="0.7"/>
<text x="33.80" y="661.30" font-family="Liberation Sans, Arial, sans-serif" font-size="5.14" fill="#444" text-anchor="end">0.00</text>
<line x1="36.80" x2="235.50" y1="662.20" y2="662.20" stroke="#d4d4ce" stroke-width="0.8"/>
<rect x="36.70" y="664.50" width="1.20" height="28.70" fill="#2a2a2a"/>
<rect x="41.55" y="664.50" width="0.90" height="28.70" fill="#8a8a8a"/>
<rect x="43.30" y="664.50" width="0.90" height="28.70" fill="#8a8a8a"/>
<rect x="45.05" y="664.50" width="0.90" height="28.70" fill="#8a8a8a"/>
<rect x="55.60" y="664.50" width="1.40" height="28.70" fill="#1a1a1a"/>
<rect x="72.05" y="664.50" width="0.90" height="28.70" fill="#8a8a8a"/>
<rect x="74.05" y="664.50" width="0.90" height="28.70" fill="#8a8a8a"/>
<rect x="75.80" y="664.50" width="0.90" height="28.70" fill="#8a8a8a"/>
<rect x="87.30" y="664.50" width="1.40" height="28.70" fill="#1a1a1a"/>
<rect x="110.20" y="664.50" width="1.10" height="28.70" fill="#2a2a2a"/>
<rect x="117.10" y="664.50" width="0.80" height="28.70" fill="#7a7a7a"/>
<rect x="120.85" y="664.50" width="0.80" height="28.70" fill="#7a7a7a"/>
<rect x="123.35" y="664.50" width="0.80" height="28.70" fill="#7a7a7a"/>
<rect x="129.10" y="664.50" width="0.80" height="28.70" fill="#7a7a7a"/>
<rect x="130.30" y="664.50" width="0.80" height="28.70" fill="#7a7a7a"/>
<rect x="133.35" y="664.50" width="0.80" height="28.70" fill="#7a7a7a"/>
<rect x="141.55" y="664.50" width="0.90" height="28.70" fill="#8a8a8a"/>
<rect x="143.25" y="664.50" width="1.00" height="28.70" fill="#555"/>
<rect x="144.55" y="664.50" width="0.90" height="28.70" fill="#8a8a8a"/>
<rect x="149.60" y="664.50" width="0.80" height="28.70" fill="#7a7a7a"/>
<rect x="156.60" y="664.50" width="0.80" height="28.70" fill="#7a7a7a"/>
<rect x="158.20" y="664.50" width="1.10" height="28.70" fill="#2a2a2a"/>
<rect x="159.60" y="664.50" width="0.80" height="28.70" fill="#7a7a7a"/>
<rect x="170.85" y="664.50" width="0.80" height="28.70" fill="#7a7a7a"/>
<rect x="177.60" y="664.50" width="0.80" height="28.70" fill="#7a7a7a"/>
<rect x="184.10" y="664.50" width="0.80" height="28.70" fill="#7a7a7a"/>
<rect x="192.60" y="664.50" width="0.80" height="28.70" fill="#7a7a7a"/>
<rect x="203.35" y="664.50" width="0.80" height="28.70" fill="#7a7a7a"/>
<rect x="218.35" y="664.50" width="0.80" height="28.70" fill="#7a7a7a"/>
<line x1="36.80" x2="235.50" y1="693.20" y2="693.20" stroke="#e4e4e4" stroke-width="0.6"/>
<line x1="36.80" x2="235.50" y1="700.90" y2="700.90" stroke="#e4e4e4" stroke-width="0.6"/>
<rect x="36.30" y="693.20" width="121.00" height="7.30" fill="url(#rg)"/>
<rect x="157.00" y="693.20" width="9.63" height="7.30" fill="#f6bcd6"/>
<rect x="166.33" y="693.20" width="9.63" height="7.30" fill="#ecc6ee"/>
<rect x="175.67" y="693.20" width="9.63" height="7.30" fill="#dccafa"/>
<rect x="185.00" y="693.20" width="12.80" height="7.30" fill="#9a9af4"/>
<rect x="197.50" y="693.20" width="22.30" height="7.30" fill="#6464e8"/>
<rect x="219.50" y="693.20" width="6.80" height="7.30" fill="#2c2ccc"/>
<polygon points="36.80,737.00 36.80,708.32 38.71,714.00 40.61,716.84 44.43,719.68 48.24,721.66 57.78,723.65 67.31,724.79 86.38,727.34 105.45,729.33 129.29,731.89 168.96,737.00 189.36,740.12 208.43,743.25 219.87,745.52 223.69,748.36 225.21,751.77 225.97,756.88 225.97,737.00" fill="#cdcdcd"/>
<text x="33.80" y="710.40" font-family="Liberation Sans, Arial, sans-serif" font-size="5.24" fill="#444" text-anchor="end">1.0</text>
<text x="33.80" y="724.60" font-family="Liberation Sans, Arial, sans-serif" font-size="5.24" fill="#444" text-anchor="end">0.5</text>
<text x="33.80" y="738.80" font-family="Liberation Sans, Arial, sans-serif" font-size="5.24" fill="#444" text-anchor="end">0.0</text>
<text x="33.80" y="753.00" font-family="Liberation Sans, Arial, sans-serif" font-size="5.24" fill="#444" text-anchor="end">-0.5</text>
<line x1="168.96" x2="168.96" y1="701.50" y2="759.50" stroke="#b4b4b4" stroke-width="0.5" stroke-dasharray="1,1"/>
<text x="168.46" y="732.40" font-family="Liberation Sans, Arial, sans-serif" font-size="4.49" fill="#222" text-anchor="middle">Zero cross at 693</text>
<text x="37.60" y="705.50" font-family="Liberation Sans, Arial, sans-serif" font-size="5.04" fill="#cc3030">'OHT' (positively correlated)</text>
<text x="204.62" y="756.80" font-family="Liberation Sans, Arial, sans-serif" font-size="5.04" fill="#3a3ad0" text-anchor="end">'Control' (negatively correlated)</text>
<text x="36.80" y="766.10" font-family="Liberation Sans, Arial, sans-serif" font-size="4.64" fill="#444" text-anchor="middle">0</text>
<text x="55.87" y="766.10" font-family="Liberation Sans, Arial, sans-serif" font-size="4.64" fill="#444" text-anchor="middle">100</text>
<text x="74.94" y="766.10" font-family="Liberation Sans, Arial, sans-serif" font-size="4.64" fill="#444" text-anchor="middle">200</text>
<text x="94.01" y="766.10" font-family="Liberation Sans, Arial, sans-serif" font-size="4.64" fill="#444" text-anchor="middle">300</text>
<text x="113.08" y="766.10" font-family="Liberation Sans, Arial, sans-serif" font-size="4.64" fill="#444" text-anchor="middle">400</text>
<text x="132.15" y="766.10" font-family="Liberation Sans, Arial, sans-serif" font-size="4.64" fill="#444" text-anchor="middle">500</text>
<text x="151.22" y="766.10" font-family="Liberation Sans, Arial, sans-serif" font-size="4.64" fill="#444" text-anchor="middle">600</text>
<text x="170.29" y="766.10" font-family="Liberation Sans, Arial, sans-serif" font-size="4.64" fill="#444" text-anchor="middle">700</text>
<text x="189.36" y="766.10" font-family="Liberation Sans, Arial, sans-serif" font-size="4.64" fill="#444" text-anchor="middle">800</text>
<text x="208.43" y="766.10" font-family="Liberation Sans, Arial, sans-serif" font-size="4.64" fill="#444" text-anchor="middle">900</text>
<text x="227.50" y="766.10" font-family="Liberation Sans, Arial, sans-serif" font-size="4.64" fill="#444" text-anchor="middle">1,000</text>
<text x="136.45" y="773.70" font-family="Liberation Sans, Arial, sans-serif" font-size="5.65" fill="#333" text-anchor="middle">Rank in Ordered Dataset</text>
<text transform="translate(19.80,619.50) rotate(-90)" font-family="Liberation Sans, Arial, sans-serif" font-size="5.75" fill="#444" text-anchor="middle">Enrichment score (ES)</text>
<text transform="translate(23.00,731.00) rotate(-90)" font-family="Liberation Sans, Arial, sans-serif" font-size="5.50" fill="#444" text-anchor="middle">Ranked list metric (Signal2Noise)</text>
<rect x="45.00" y="780.20" width="157.50" height="9.80" fill="#ffffff" stroke="#8e8e8e" stroke-width="0.85"/>
<line x1="47.50" x2="52.99" y1="785.10" y2="785.10" stroke="#88da42" stroke-width="1"/>
<text x="55.89" y="787.10" font-family="Liberation Sans, Arial, sans-serif" font-size="5.54" fill="#222">Enrichment profile</text>
<line x1="103.33" x2="109.72" y1="785.10" y2="785.10" stroke="#333" stroke-width="0.8"/>
<text x="111.92" y="787.10" font-family="Liberation Sans, Arial, sans-serif" font-size="5.54" fill="#222">Hits</text>
<line x1="135.39" x2="142.38" y1="785.10" y2="785.10" stroke="#dedede" stroke-width="0.8"/>
<text x="144.57" y="787.10" font-family="Liberation Sans, Arial, sans-serif" font-size="5.65" fill="#222">Ranking metric scores</text>
<polyline points="37.00,659.50 37.50,635.00 41.25,638.75 43.00,613.75 44.50,615.00 46.25,600.50 55.50,608.75 58.00,578.75 72.50,592.50 74.50,584.50 75.50,586.25 78.00,582.00 87.50,592.00 89.50,580.00 110.00,599.50 112.00,594.50 117.50,599.50 119.50,596.25 121.25,598.75 123.75,595.75 128.75,600.50 130.50,598.75 132.00,600.50 133.75,598.75 142.00,606.25 145.00,602.50 155.00,610.75 157.50,609.50 158.75,610.75 160.50,610.00 171.25,621.25 181.25,630.00 184.50,631.25 192.50,637.50 193.75,636.25 202.50,645.00 203.75,643.25 216.25,653.75 218.00,652.00 226.25,659.50" fill="none" stroke="#8ade46" stroke-width="1.55" stroke-linejoin="round" stroke-linecap="round"/>
<text x="181.30" y="598.20" font-family="Liberation Serif, Times New Roman, serif" font-size="10.8" fill="#1c1c1c" stroke="#1c1c1c" stroke-width="0.22" textLength="50.00" lengthAdjust="spacingAndGlyphs">PC vs. HRS</text>
<text x="51.30" y="624.90" font-family="Liberation Serif, Times New Roman, serif" font-size="10.8" fill="#1c1c1c" stroke="#1c1c1c" stroke-width="0.22" textLength="38.20" lengthAdjust="spacingAndGlyphs">p=0.036</text>
<text x="51.30" y="637.90" font-family="Liberation Serif, Times New Roman, serif" font-size="10.8" fill="#1c1c1c" stroke="#1c1c1c" stroke-width="0.22" textLength="51.70" lengthAdjust="spacingAndGlyphs">NES=1.591</text>
<text x="51.30" y="651.10" font-family="Liberation Serif, Times New Roman, serif" font-size="10.8" fill="#1c1c1c" stroke="#1c1c1c" stroke-width="0.22" textLength="51.70" lengthAdjust="spacingAndGlyphs">FDR=0.041</text>
<rect x="287.50" y="572.00" width="229.50" height="219.20" fill="#eceae1"/>
<rect x="312.50" y="573.60" width="201.30" height="186.40" fill="#ffffff" stroke="#dcddd6" stroke-width="0.8"/>
<line x1="332.33" x2="332.33" y1="574.10" y2="661.50" stroke="#f0f0f0" stroke-width="0.6"/>
<line x1="332.33" x2="332.33" y1="700.50" y2="759.50" stroke="#f0f0f0" stroke-width="0.6"/>
<line x1="351.66" x2="351.66" y1="574.10" y2="661.50" stroke="#f0f0f0" stroke-width="0.6"/>
<line x1="351.66" x2="351.66" y1="700.50" y2="759.50" stroke="#f0f0f0" stroke-width="0.6"/>
<line x1="370.99" x2="370.99" y1="574.10" y2="661.50" stroke="#f0f0f0" stroke-width="0.6"/>
<line x1="370.99" x2="370.99" y1="700.50" y2="759.50" stroke="#f0f0f0" stroke-width="0.6"/>
<line x1="390.32" x2="390.32" y1="574.10" y2="661.50" stroke="#f0f0f0" stroke-width="0.6"/>
<line x1="390.32" x2="390.32" y1="700.50" y2="759.50" stroke="#f0f0f0" stroke-width="0.6"/>
<line x1="409.65" x2="409.65" y1="574.10" y2="661.50" stroke="#f0f0f0" stroke-width="0.6"/>
<line x1="409.65" x2="409.65" y1="700.50" y2="759.50" stroke="#f0f0f0" stroke-width="0.6"/>
<line x1="428.98" x2="428.98" y1="574.10" y2="661.50" stroke="#f0f0f0" stroke-width="0.6"/>
<line x1="428.98" x2="428.98" y1="700.50" y2="759.50" stroke="#f0f0f0" stroke-width="0.6"/>
<line x1="448.31" x2="448.31" y1="574.10" y2="661.50" stroke="#f0f0f0" stroke-width="0.6"/>
<line x1="448.31" x2="448.31" y1="700.50" y2="759.50" stroke="#f0f0f0" stroke-width="0.6"/>
<line x1="467.64" x2="467.64" y1="574.10" y2="661.50" stroke="#f0f0f0" stroke-width="0.6"/>
<line x1="467.64" x2="467.64" y1="700.50" y2="759.50" stroke="#f0f0f0" stroke-width="0.6"/>
<line x1="486.97" x2="486.97" y1="574.10" y2="661.50" stroke="#f0f0f0" stroke-width="0.6"/>
<line x1="486.97" x2="486.97" y1="700.50" y2="759.50" stroke="#f0f0f0" stroke-width="0.6"/>
<line x1="506.30" x2="506.30" y1="574.10" y2="661.50" stroke="#f0f0f0" stroke-width="0.6"/>
<line x1="506.30" x2="506.30" y1="700.50" y2="759.50" stroke="#f0f0f0" stroke-width="0.6"/>
<line x1="312.50" x2="513.80" y1="578.00" y2="578.00" stroke="#f0f0f0" stroke-width="0.6"/>
<text x="309.50" y="579.80" font-family="Liberation Sans, Arial, sans-serif" font-size="5.21" fill="#444" text-anchor="end">0.6</text>
<line x1="312.50" x2="513.80" y1="591.30" y2="591.30" stroke="#f0f0f0" stroke-width="0.6"/>
<text x="309.50" y="593.10" font-family="Liberation Sans, Arial, sans-serif" font-size="5.21" fill="#444" text-anchor="end">0.5</text>
<line x1="312.50" x2="513.80" y1="604.60" y2="604.60" stroke="#f0f0f0" stroke-width="0.6"/>
<text x="309.50" y="606.40" font-family="Liberation Sans, Arial, sans-serif" font-size="5.21" fill="#444" text-anchor="end">0.4</text>
<line x1="312.50" x2="513.80" y1="618.10" y2="618.10" stroke="#f0f0f0" stroke-width="0.6"/>
<text x="309.50" y="619.90" font-family="Liberation Sans, Arial, sans-serif" font-size="5.21" fill="#444" text-anchor="end">0.3</text>
<line x1="312.50" x2="513.80" y1="631.60" y2="631.60" stroke="#f0f0f0" stroke-width="0.6"/>
<text x="309.50" y="633.40" font-family="Liberation Sans, Arial, sans-serif" font-size="5.21" fill="#444" text-anchor="end">0.2</text>
<line x1="312.50" x2="513.80" y1="645.00" y2="645.00" stroke="#f0f0f0" stroke-width="0.6"/>
<text x="309.50" y="646.80" font-family="Liberation Sans, Arial, sans-serif" font-size="5.21" fill="#444" text-anchor="end">0.1</text>
<line x1="312.50" x2="513.80" y1="658.30" y2="658.30" stroke="#b0b0b0" stroke-width="0.7"/>
<text x="309.50" y="660.10" font-family="Liberation Sans, Arial, sans-serif" font-size="5.21" fill="#444" text-anchor="end">0.0</text>
<line x1="312.50" x2="513.80" y1="661.50" y2="661.50" stroke="#d4d4ce" stroke-width="0.8"/>
<rect x="313.50" y="664.30" width="0.80" height="28.70" fill="#9a9a9a"/>
<rect x="315.60" y="664.30" width="0.80" height="28.70" fill="#7a7a7a"/>
<rect x="317.70" y="664.30" width="0.80" height="28.70" fill="#7a7a7a"/>
<rect x="321.90" y="664.30" width="0.80" height="28.70" fill="#7a7a7a"/>
<rect x="331.90" y="664.30" width="1.20" height="28.70" fill="#2a2a2a"/>
<rect x="337.60" y="664.30" width="0.80" height="28.70" fill="#7a7a7a"/>
<rect x="365.85" y="664.30" width="0.80" height="28.70" fill="#7a7a7a"/>
<rect x="394.60" y="664.30" width="0.80" height="28.70" fill="#7a7a7a"/>
<rect x="400.85" y="664.30" width="0.80" height="28.70" fill="#7a7a7a"/>
<rect x="419.10" y="664.30" width="0.80" height="28.70" fill="#7a7a7a"/>
<rect x="421.60" y="664.30" width="0.80" height="28.70" fill="#7a7a7a"/>
<rect x="428.35" y="664.30" width="0.80" height="28.70" fill="#7a7a7a"/>
<rect x="430.85" y="664.30" width="0.80" height="28.70" fill="#7a7a7a"/>
<rect x="435.85" y="664.30" width="0.80" height="28.70" fill="#7a7a7a"/>
<rect x="439.60" y="664.30" width="0.80" height="28.70" fill="#7a7a7a"/>
<rect x="469.90" y="664.30" width="1.20" height="28.70" fill="#2a2a2a"/>
<line x1="312.50" x2="513.80" y1="693.00" y2="693.00" stroke="#e4e4e4" stroke-width="0.6"/>
<line x1="312.50" x2="513.80" y1="700.40" y2="700.40" stroke="#e4e4e4" stroke-width="0.6"/>
<rect x="312.50" y="693.00" width="122.80" height="7.00" fill="url(#rg)"/>
<rect x="435.00" y="693.00" width="9.90" height="7.00" fill="#f6bcd6"/>
<rect x="444.60" y="693.00" width="9.90" height="7.00" fill="#ecc6ee"/>
<rect x="454.20" y="693.00" width="9.90" height="7.00" fill="#dccafa"/>
<rect x="463.80" y="693.00" width="12.80" height="7.00" fill="#9a9af4"/>
<rect x="476.30" y="693.00" width="22.00" height="7.00" fill="#6464e8"/>
<rect x="498.00" y="693.00" width="7.00" height="7.00" fill="#2c2ccc"/>
<polygon points="313.00,736.75 313.00,707.97 314.93,713.66 316.87,716.51 320.73,719.37 324.60,721.36 334.26,723.36 343.93,724.50 363.26,727.06 382.59,729.05 406.75,731.62 446.96,736.75 467.64,739.88 486.97,743.02 498.57,745.30 502.43,748.15 503.98,751.57 504.75,756.70 504.75,736.75" fill="#cdcdcd"/>
<text x="309.50" y="710.05" font-family="Liberation Sans, Arial, sans-serif" font-size="5.31" fill="#444" text-anchor="end">1.0</text>
<text x="309.50" y="724.30" font-family="Liberation Sans, Arial, sans-serif" font-size="5.31" fill="#444" text-anchor="end">0.5</text>
<text x="309.50" y="738.55" font-family="Liberation Sans, Arial, sans-serif" font-size="5.31" fill="#444" text-anchor="end">0.0</text>
<text x="309.50" y="752.80" font-family="Liberation Sans, Arial, sans-serif" font-size="5.31" fill="#444" text-anchor="end">-0.5</text>
<line x1="446.96" x2="446.96" y1="701.00" y2="759.50" stroke="#b4b4b4" stroke-width="0.5" stroke-dasharray="1,1"/>
<text x="446.46" y="732.15" font-family="Liberation Sans, Arial, sans-serif" font-size="4.55" fill="#222" text-anchor="middle">Zero cross at 693</text>
<text x="313.30" y="705.00" font-family="Liberation Sans, Arial, sans-serif" font-size="5.11" fill="#cc3030">'OHT' (positively correlated)</text>
<text x="483.10" y="756.80" font-family="Liberation Sans, Arial, sans-serif" font-size="5.11" fill="#3a3ad0" text-anchor="end">'Control' (negatively correlated)</text>
<text x="313.00" y="766.10" font-family="Liberation Sans, Arial, sans-serif" font-size="4.70" fill="#444" text-anchor="middle">0</text>
<text x="332.33" y="766.10" font-family="Liberation Sans, Arial, sans-serif" font-size="4.70" fill="#444" text-anchor="middle">100</text>
<text x="351.66" y="766.10" font-family="Liberation Sans, Arial, sans-serif" font-size="4.70" fill="#444" text-anchor="middle">200</text>
<text x="370.99" y="766.10" font-family="Liberation Sans, Arial, sans-serif" font-size="4.70" fill="#444" text-anchor="middle">300</text>
<text x="390.32" y="766.10" font-family="Liberation Sans, Arial, sans-serif" font-size="4.70" fill="#444" text-anchor="middle">400</text>
<text x="409.65" y="766.10" font-family="Liberation Sans, Arial, sans-serif" font-size="4.70" fill="#444" text-anchor="middle">500</text>
<text x="428.98" y="766.10" font-family="Liberation Sans, Arial, sans-serif" font-size="4.70" fill="#444" text-anchor="middle">600</text>
<text x="448.31" y="766.10" font-family="Liberation Sans, Arial, sans-serif" font-size="4.70" fill="#444" text-anchor="middle">700</text>
<text x="467.64" y="766.10" font-family="Liberation Sans, Arial, sans-serif" font-size="4.70" fill="#444" text-anchor="middle">800</text>
<text x="486.97" y="766.10" font-family="Liberation Sans, Arial, sans-serif" font-size="4.70" fill="#444" text-anchor="middle">900</text>
<text x="506.30" y="766.10" font-family="Liberation Sans, Arial, sans-serif" font-size="4.70" fill="#444" text-anchor="middle">1,000</text>
<text x="413.45" y="773.70" font-family="Liberation Sans, Arial, sans-serif" font-size="5.72" fill="#333" text-anchor="middle">Rank in Ordered Dataset</text>
<text transform="translate(297.80,618.50) rotate(-90)" font-family="Liberation Sans, Arial, sans-serif" font-size="5.82" fill="#444" text-anchor="middle">Enrichment score (ES)</text>
<text transform="translate(298.00,730.50) rotate(-90)" font-family="Liberation Sans, Arial, sans-serif" font-size="5.57" fill="#444" text-anchor="middle">Ranked list metric (Signal2Noise)</text>
<rect x="323.00" y="780.00" width="157.50" height="10.00" fill="#ffffff" stroke="#8e8e8e" stroke-width="0.85"/>
<line x1="325.50" x2="330.99" y1="785.00" y2="785.00" stroke="#88da42" stroke-width="1"/>
<text x="333.89" y="787.00" font-family="Liberation Sans, Arial, sans-serif" font-size="5.54" fill="#222">Enrichment profile</text>
<line x1="381.33" x2="387.72" y1="785.00" y2="785.00" stroke="#333" stroke-width="0.8"/>
<text x="389.92" y="787.00" font-family="Liberation Sans, Arial, sans-serif" font-size="5.54" fill="#222">Hits</text>
<line x1="413.39" x2="420.38" y1="785.00" y2="785.00" stroke="#dedede" stroke-width="0.8"/>
<text x="422.57" y="787.00" font-family="Liberation Sans, Arial, sans-serif" font-size="5.65" fill="#222">Ranking metric scores</text>
<polyline points="313.00,658.25 313.25,641.25 313.75,625.00 315.50,626.25 317.50,600.00 320.00,602.50 322.50,592.50 332.00,599.50 333.75,581.25 336.25,585.00 338.75,577.50 363.75,597.50 367.00,592.00 393.75,611.25 396.25,607.50 397.50,610.50 401.25,607.50 418.75,620.00 421.25,616.25 423.75,618.00 426.25,616.25 428.75,618.75 431.25,617.00 435.00,618.75 437.50,618.00 443.75,621.25 470.00,640.00 472.00,635.00 505.00,658.75" fill="none" stroke="#8ade46" stroke-width="1.55" stroke-linejoin="round" stroke-linecap="round"/>
<text x="438.80" y="592.40" font-family="Liberation Serif, Times New Roman, serif" font-size="10.8" fill="#1c1c1c" stroke="#1c1c1c" stroke-width="0.22" textLength="60.70" lengthAdjust="spacingAndGlyphs">PC vs. B cells</text>
<text x="328.00" y="624.90" font-family="Liberation Serif, Times New Roman, serif" font-size="10.8" fill="#1c1c1c" stroke="#1c1c1c" stroke-width="0.22" textLength="38.20" lengthAdjust="spacingAndGlyphs">p=0.001</text>
<text x="328.00" y="637.90" font-family="Liberation Serif, Times New Roman, serif" font-size="10.8" fill="#1c1c1c" stroke="#1c1c1c" stroke-width="0.22" textLength="52.00" lengthAdjust="spacingAndGlyphs">NES=1.875</text>
<text x="328.00" y="651.10" font-family="Liberation Serif, Times New Roman, serif" font-size="10.8" fill="#1c1c1c" stroke="#1c1c1c" stroke-width="0.22" textLength="52.00" lengthAdjust="spacingAndGlyphs">FDR=0.008</text>
</g>
</svg>
</body></html>
